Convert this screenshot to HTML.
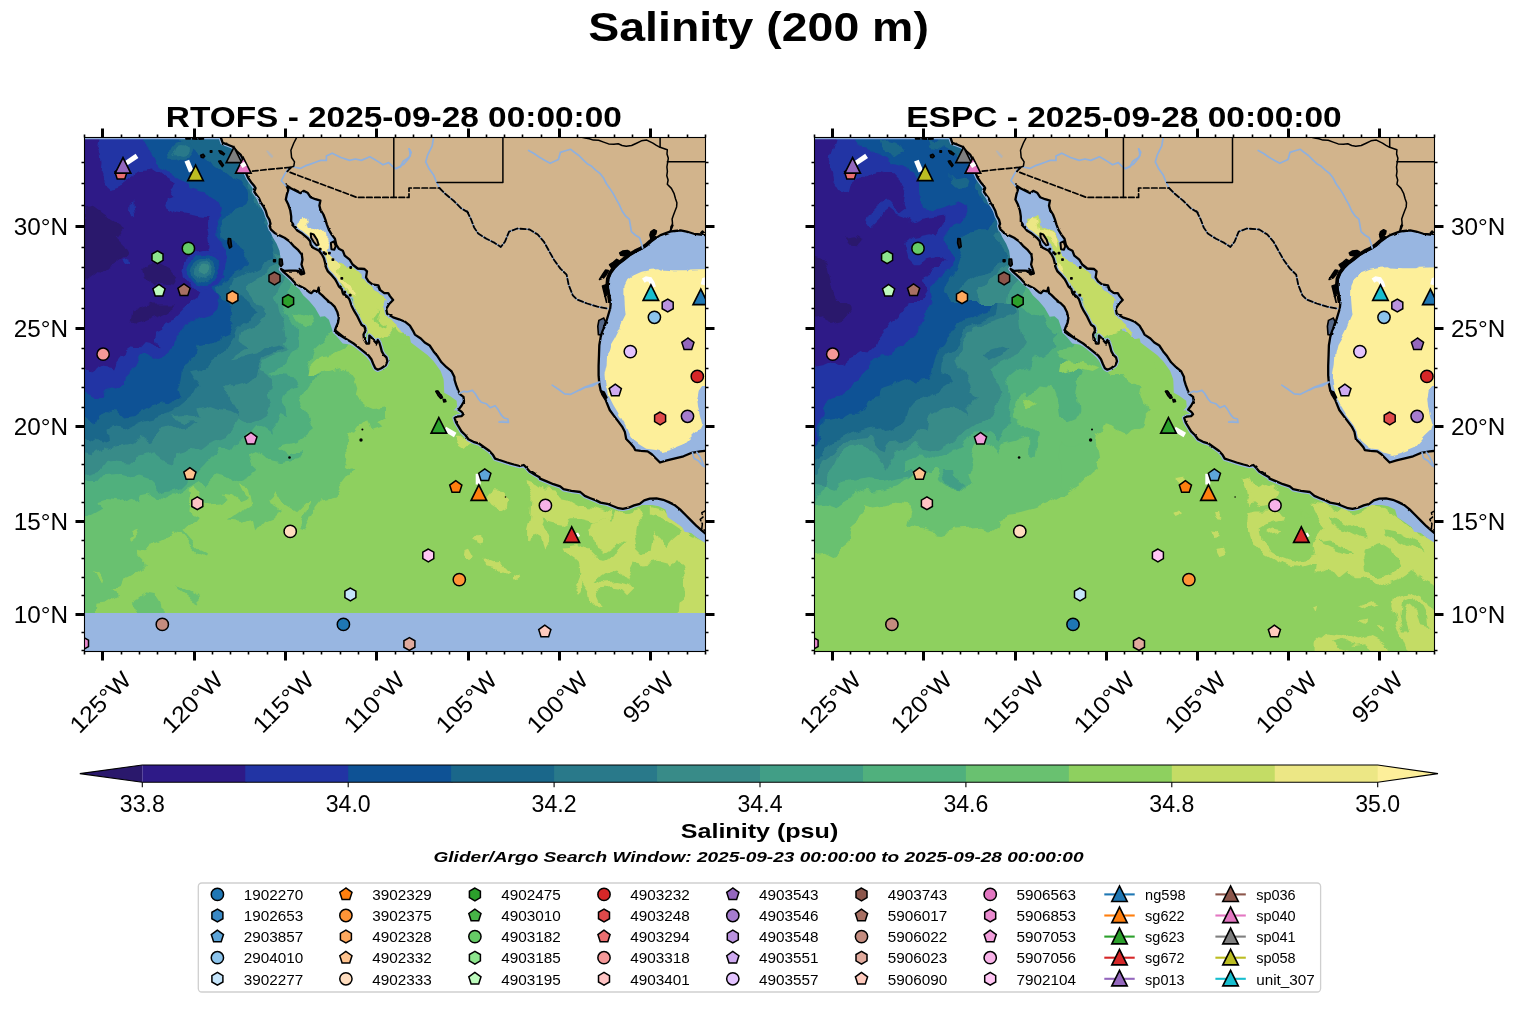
<!DOCTYPE html>
<html><head><meta charset="utf-8"><title>Salinity (200 m)</title><style>html,body{margin:0;padding:0;background:#fff}svg{display:block}text{fill:#000}svg{will-change:transform}</style></head><body><svg width="1518" height="1014" viewBox="0 0 1518 1014">
<rect width="1518" height="1014" fill="#fff"/>
<defs><clipPath id="clipL"><rect x="84.5" y="137.5" width="621" height="514"/></clipPath>
<filter id="rough" color-interpolation-filters="sRGB" filterUnits="userSpaceOnUse" x="40" y="90" width="720" height="610"><feTurbulence type="fractalNoise" baseFrequency="0.045" numOctaves="3" seed="7" result="n"/><feDisplacementMap in="SourceGraphic" in2="n" scale="14" xChannelSelector="R" yChannelSelector="G"/></filter>
<filter id="rough2" color-interpolation-filters="sRGB" filterUnits="userSpaceOnUse" x="40" y="90" width="720" height="610"><feTurbulence type="fractalNoise" baseFrequency="0.08" numOctaves="2" seed="3" result="n"/><feDisplacementMap in="SourceGraphic" in2="n" scale="5" xChannelSelector="R" yChannelSelector="G"/></filter>
<filter id="coast" color-interpolation-filters="sRGB" filterUnits="userSpaceOnUse" x="40" y="90" width="720" height="610"><feTurbulence type="fractalNoise" baseFrequency="0.16" numOctaves="2" seed="11" result="n"/><feDisplacementMap in="SourceGraphic" in2="n" scale="2.0" xChannelSelector="R" yChannelSelector="G"/></filter>
<filter id="wig" color-interpolation-filters="sRGB" filterUnits="userSpaceOnUse" x="40" y="90" width="720" height="610"><feTurbulence type="fractalNoise" baseFrequency="0.13" numOctaves="2" seed="5" result="n"/><feDisplacementMap in="SourceGraphic" in2="n" scale="4.5" xChannelSelector="R" yChannelSelector="G"/></filter>
<clipPath id="clipR"><rect x="814.5" y="137.5" width="620" height="514"/></clipPath></defs>
<text x="758.6" y="41.3" font-family="Liberation Sans, sans-serif" font-size="40.5" text-anchor="middle" font-weight="bold" font-style="normal" textLength="340.5" lengthAdjust="spacingAndGlyphs" >Salinity (200 m)</text>
<text x="393.8" y="127.2" font-family="Liberation Sans, sans-serif" font-size="30.4" text-anchor="middle" font-weight="bold" font-style="normal" textLength="456.0" lengthAdjust="spacingAndGlyphs" >RTOFS - 2025-09-28 00:00:00</text>
<text x="1124.0" y="127.2" font-family="Liberation Sans, sans-serif" font-size="30.4" text-anchor="middle" font-weight="bold" font-style="normal" textLength="435.5" lengthAdjust="spacingAndGlyphs" >ESPC - 2025-09-28 00:00:00</text>
<g clip-path="url(#clipL)"><g transform="translate(0.0,0)">
<g filter="url(#rough)">
<rect x="40" y="90" width="720" height="610" fill="#2234a4"/>
<path d="M82.4 135.4 L97.2 135.4 L97.2 138.6 L96.4 145.2 L99.6 153.5 L100.5 163.4 L99.6 174.9 L103.8 183.1 L109.5 188.1 L116.9 186.4 L126.0 183.1 L131.8 178.2 L133.4 172.4 L136.7 168.3 L143.3 167.5 L149.9 166.6 L156.5 170.8 L163.1 176.5 L169.6 180.6 L173.8 182.3 L169.6 188.1 L171.3 193.8 L174.6 197.1 L168.0 198.8 L165.5 204.5 L168.0 211.1 L176.2 214.4 L186.1 216.1 L196.0 217.7 L206.7 219.3 L207.5 225.9 L210.0 235.8 L211.6 244.0 L209.2 247.3 L199.3 250.6 L189.4 255.6 L184.5 262.2 L183.6 270.4 L186.1 280.3 L192.7 288.5 L199.3 295.1 L196.0 301.7 L192.7 304.0 L191.0 304.0 L182.8 310.6 L176.2 317.2 L166.3 322.1 L163.1 328.7 L156.5 332.0 L154.8 338.6 L156.5 344.3 L149.9 341.9 L144.9 341.1 L140.0 346.8 L131.8 345.2 L126.8 348.5 L125.2 353.4 L118.6 355.1 L114.5 360.0 L111.2 368.2 L100.5 366.6 L93.9 369.9 L92.2 372.3 L84.0 369.1 L80.7 369.1Z" fill="#2e1a87" />
<path d="M83.2 209.5 L93.9 207.8 L105.4 216.1 L116.9 222.6 L121.9 229.2 L116.9 235.8 L125.2 244.0 L130.1 252.3 L121.9 258.9 L113.6 265.5 L103.8 268.8 L93.9 277.0 L83.2 285.2Z" fill="#2a186c" />
<path d="M146.6 263.8 L158.1 262.2 L169.6 268.8 L176.2 277.0 L172.9 283.6 L163.1 281.9 L154.8 285.2 L144.9 280.3 L143.3 270.4Z" fill="#2a186c" />
<path d="M133.4 310.6 L149.9 305.6 L176.2 305.6 L166.3 312.2 L153.2 317.2 L138.3 323.8 L131.8 322.1Z" fill="#2a186c" />
<path d="M128.5 202.9 L133.4 200.4 L134.2 209.5 L135.1 217.7 L130.1 218.5 L128.1 211.1Z" fill="#2234a4" />
<path d="M123.5 258.9 L129.3 257.2 L130.1 263.0 L125.2 265.5Z" fill="#2234a4" />
<path d="M141.6 135.4 L141.6 138.6 L146.6 146.9 L151.5 155.1 L156.5 163.4 L163.1 169.9 L172.9 175.7 L182.8 181.5 L189.4 186.4 L191.0 191.3 L199.3 193.8 L209.2 196.3 L217.4 201.2 L219.9 209.5 L217.4 219.3 L219.0 229.2 L220.7 239.1 L224.0 250.6 L225.6 262.2 L224.0 273.7 L215.8 283.6 L210.8 288.5 L215.8 295.1 L219.0 301.7 L215.8 304.0 L214.1 310.6 L209.2 313.9 L199.3 317.2 L189.4 325.4 L184.5 330.4 L172.9 336.9 L166.3 343.5 L163.1 353.4 L154.8 358.3 L146.6 353.4 L138.3 356.7 L133.4 366.6 L126.8 373.2 L125.2 383.1 L116.9 388.0 L108.7 389.6 L102.1 397.9 L93.9 397.9 L84.0 392.9 L80.7 392.9 L60.0 660.0 L720.0 660.0 L720.0 120.0Z" fill="#0e5295" />
<path d="M181.2 135.4 L181.2 138.6 L189.4 146.9 L199.3 155.1 L209.2 161.7 L220.7 169.9 L232.2 176.5 L242.1 179.8 L248.7 186.4 L250.3 196.3 L247.0 206.2 L238.8 211.1 L228.9 212.8 L221.5 217.7 L222.3 229.2 L224.0 239.1 L232.2 242.4 L242.1 245.7 L247.0 252.3 L247.9 262.2 L242.1 268.8 L232.2 273.7 L225.6 280.3 L220.7 285.2 L215.8 290.2 L217.4 296.7 L222.3 301.7 L228.9 304.0 L232.2 313.9 L235.5 323.8 L232.2 332.0 L220.7 335.3 L219.0 341.9 L205.9 346.8 L197.6 348.5 L196.0 355.1 L191.0 364.9 L182.8 369.9 L181.2 379.8 L176.2 386.3 L179.5 396.2 L172.9 402.8 L163.1 401.2 L149.9 404.5 L141.6 409.4 L133.4 416.0 L125.2 417.6 L116.9 409.4 L105.4 407.8 L97.2 412.7 L93.9 422.6 L84.0 416.0 L80.7 416.0 L60.0 660.0 L720.0 660.0 L720.0 120.0Z" fill="#1a678a" />
<path d="M255.3 169.9 L248.7 174.9 L252.0 186.4 L255.3 199.6 L258.6 209.5 L263.5 219.3 L268.5 229.2 L271.7 239.1 L273.4 249.0 L270.1 258.9 L258.6 265.5 L248.7 268.8 L240.5 273.7 L232.2 278.6 L228.9 285.2 L232.2 291.8 L238.8 298.4 L250.3 304.0 L258.6 310.6 L248.7 320.5 L238.8 328.7 L235.5 336.9 L222.3 346.8 L219.0 356.7 L199.3 371.5 L191.0 373.2 L199.3 386.3 L196.0 392.9 L184.5 402.8 L176.2 409.4 L169.6 414.3 L154.8 419.3 L141.6 422.6 L125.2 429.2 L113.6 425.9 L105.4 430.8 L107.1 440.7 L93.9 437.4 L88.9 440.7 L84.0 437.4 L80.7 437.4 L60.0 660.0 L720.0 660.0 L720.0 200.0Z" fill="#29798a" />
<path d="M286.6 252.3 L273.4 252.3 L276.7 262.2 L270.1 268.8 L261.9 273.7 L253.6 277.0 L247.0 285.2 L248.7 293.5 L255.3 301.7 L261.9 304.0 L265.2 313.9 L255.3 325.4 L242.1 332.0 L240.5 340.2 L248.7 345.2 L235.5 353.4 L232.2 358.3 L256.9 353.4 L265.2 346.8 L278.3 343.5 L283.3 346.8 L275.0 351.8 L263.5 356.7 L258.6 366.6 L256.9 376.5 L247.0 383.1 L235.5 386.3 L222.3 386.3 L228.9 396.2 L237.2 409.4 L238.8 416.0 L228.9 411.0 L219.0 409.4 L209.2 406.1 L199.3 409.4 L202.6 417.6 L182.8 416.0 L169.6 417.6 L182.8 422.6 L197.6 420.9 L189.4 427.5 L172.9 429.2 L158.1 432.5 L149.9 444.0 L138.3 435.8 L133.4 444.0 L113.6 448.9 L105.4 445.6 L97.2 448.9 L90.6 457.2 L84.0 455.5 L80.7 455.5 L60.0 660.0 L720.0 660.0 L720.0 250.0Z" fill="#388b88" />
<path d="M291.5 268.8 L283.3 272.0 L280.0 281.9 L275.0 290.2 L273.4 298.4 L276.7 304.0 L278.3 313.9 L284.9 325.4 L286.6 336.9 L281.6 341.9 L286.6 350.1 L271.7 355.1 L263.5 360.0 L260.2 369.9 L266.8 374.8 L275.0 378.1 L273.4 392.9 L266.8 396.2 L270.1 406.1 L265.2 412.7 L255.3 419.3 L245.4 422.6 L238.8 419.3 L232.2 429.2 L227.3 435.8 L215.8 440.7 L205.9 444.0 L199.3 448.9 L192.7 447.3 L176.2 452.2 L172.9 462.1 L163.1 458.8 L153.2 452.2 L138.3 457.2 L135.1 462.1 L116.9 460.5 L105.4 462.1 L100.5 468.7 L93.9 471.0 L84.0 473.6 L80.7 473.6 L60.0 660.0 L720.0 660.0 L720.0 260.0Z" fill="#419e86" />
<path d="M298.1 281.9 L291.5 285.2 L286.6 293.5 L284.1 301.7 L283.3 304.0 L281.6 313.9 L291.5 323.8 L296.5 333.6 L298.1 346.8 L291.5 353.4 L288.2 361.6 L278.3 369.9 L268.5 373.2 L293.2 376.5 L296.5 383.1 L284.9 389.6 L281.6 399.5 L284.9 409.4 L286.6 419.3 L278.3 416.0 L273.4 425.9 L275.0 435.8 L265.2 429.2 L255.3 425.9 L248.7 434.1 L232.2 447.3 L228.9 452.2 L219.0 448.9 L209.2 458.8 L199.3 471.0 L186.1 477.6 L182.8 484.2 L176.2 490.8 L166.3 492.4 L156.5 487.5 L149.9 480.9 L138.3 477.6 L128.5 479.2 L116.9 475.9 L100.5 477.6 L84.0 478.4 L80.7 478.4 L60.0 660.0 L720.0 660.0 L720.0 270.0Z" fill="#50b07d" />
<path d="M340.9 328.7 L329.6 332.0 L322.8 341.9 L314.6 350.1 L311.3 360.0 L308.0 366.6 L311.3 373.2 L321.2 376.5 L311.3 381.4 L306.3 389.6 L301.4 399.5 L304.7 409.4 L309.6 419.3 L312.9 429.2 L304.7 435.8 L294.8 442.3 L281.6 445.6 L289.9 452.2 L304.7 448.9 L298.1 458.8 L281.6 462.1 L265.2 458.8 L256.9 452.2 L248.7 457.2 L252.0 465.4 L256.9 470.2 L250.3 475.9 L242.1 479.2 L232.2 482.5 L225.6 475.9 L217.4 474.3 L214.1 477.6 L205.9 485.8 L199.3 480.9 L189.4 485.8 L184.5 487.5 L176.2 494.1 L169.6 497.4 L158.1 495.7 L149.9 490.8 L141.6 492.4 L140.0 500.6 L131.8 495.7 L116.9 500.6 L103.8 499.0 L93.9 502.3 L100.5 508.9 L88.9 515.5 L84.0 520.4 L80.7 520.4 L60.0 660.0 L720.0 660.0 L720.0 120.0 L400.0 120.0Z" fill="#69c170" />
<path d="M293.2 315.5 L299.7 312.2 L308.0 315.5 L311.3 323.8 L303.0 328.7 L296.5 323.8Z" fill="#69c170" />
<path d="M349.4 341.9 L342.8 346.8 L332.9 351.8 L329.6 358.3 L316.5 360.0 L309.9 366.6 L308.2 374.8 L316.5 376.5 L321.4 373.2 L332.9 369.9 L346.1 366.6 L356.0 379.8 L359.3 389.6 L357.6 396.2 L365.9 402.8 L374.1 406.1 L384.0 404.5 L384.0 416.0 L377.4 422.6 L382.3 427.5 L372.5 430.8 L369.2 420.9 L360.9 429.2 L356.0 435.8 L349.4 434.1 L347.8 444.0 L349.4 455.5 L347.8 465.4 L354.3 471.0 L334.0 497.4 L321.2 500.6 L314.6 508.9 L304.7 528.6 L298.1 527.0 L303.0 518.8 L311.3 500.6 L306.3 503.9 L298.1 512.2 L284.9 503.9 L280.0 497.4 L273.4 492.4 L265.2 500.6 L271.7 503.9 L280.0 508.9 L273.4 515.5 L265.2 518.8 L256.9 528.6 L255.3 518.8 L242.1 522.1 L228.9 520.4 L238.8 513.8 L250.3 505.6 L247.0 487.5 L238.8 484.2 L242.1 490.8 L247.0 499.0 L238.8 502.3 L228.9 494.1 L220.7 492.4 L225.6 499.0 L219.0 503.9 L209.2 505.6 L202.6 502.3 L199.3 492.4 L192.7 485.8 L186.1 489.1 L191.0 492.4 L189.4 508.9 L191.0 513.8 L197.6 517.1 L191.0 525.3 L182.8 533.6 L172.9 530.3 L166.3 536.9 L156.5 541.8 L148.2 553.3 L136.7 551.7 L138.3 556.6 L144.9 563.2 L138.3 569.8 L126.8 576.4 L123.5 584.6 L113.6 589.6 L116.9 594.5 L107.1 601.1 L96.4 602.8 L95.5 613.0 L95.5 652.2 L720.0 660.0 L720.0 120.0 L420.0 120.0Z" fill="#8ed05f" />
<path d="M138.3 614.3 L131.8 602.8 L140.0 596.2 L146.6 591.2 L156.5 592.9 L161.4 601.1 L163.1 614.3Z" fill="#69c170" />
<path d="M177.9 528.6 L182.8 531.9 L191.0 541.8 L199.3 550.1 L205.9 553.3 L205.0 556.6 L197.6 553.3 L189.4 545.1 L182.8 536.9Z" fill="#69c170" />
<path d="M176.2 586.3 L182.8 587.9 L197.6 596.2 L199.3 602.8 L189.4 597.8 L182.8 592.9Z" fill="#69c170" />
<path d="M131.8 530.3 L138.3 527.8 L140.0 533.6 L136.7 540.2 L130.9 545.1 L130.1 540.2 L135.1 536.9Z" fill="#8ed05f" />
<path d="M92.2 573.1 L97.2 574.8 L102.1 583.0 L100.5 584.6 L95.5 579.7Z" fill="#8ed05f" />
<path d="M484.4 498.4 L490.6 491.2 L500.8 492.3 L508.0 499.5 L507.0 506.7 L498.8 511.8 L490.6 506.7Z" fill="#c4dc65" />
<path d="M472.1 540.6 L478.2 534.4 L483.4 539.6 L480.3 544.7Z" fill="#c4dc65" />
<path d="M463.8 549.8 L469.0 547.8 L474.1 557.0 L467.9 562.2 L462.8 556.0Z" fill="#c4dc65" />
<path d="M482.3 561.1 L492.6 560.1 L502.9 564.2 L510.1 568.3 L508.0 571.4 L498.8 567.3 L486.4 565.2Z" fill="#c4dc65" />
<path d="M514.2 574.5 L518.3 575.5 L519.3 578.6 L515.2 579.6Z" fill="#c4dc65" />
<path d="M526.6 478.9 L534.0 481.8 L544.4 489.2 L556.2 490.7 L562.1 498.1 L569.5 499.6 L579.9 505.5 L591.7 507.0 L603.5 509.9 L612.4 512.9 L610.9 521.8 L603.5 518.8 L594.6 523.2 L582.8 520.3 L571.0 520.3 L562.1 524.7 L550.3 523.2 L538.5 520.3 L544.4 529.2 L550.3 538.0 L544.4 548.4 L541.4 539.5 L534.0 535.1 L528.1 539.5 L528.1 529.2 L531.1 517.3 L532.5 499.6 L528.1 489.2Z" fill="#c4dc65" />
<path d="M594.6 523.2 L603.5 518.8 L612.4 521.8 L615.4 514.4 L622.7 511.4 L630.1 512.9 L639.0 509.9 L642.0 515.8 L634.6 524.7 L633.1 535.1 L636.1 546.9 L643.4 554.3 L653.8 552.8 L655.3 539.5 L653.8 532.1 L661.2 538.0 L668.6 546.9 L674.5 539.5 L683.4 532.1 L692.3 536.5 L704.1 542.5 L710.0 543.9 L710.0 614.9 L676.7 614.9 L677.5 603.1 L684.9 591.3 L683.4 576.5 L680.4 564.6 L673.0 555.8 L667.1 564.6 L656.8 561.7 L644.9 564.6 L633.1 561.7 L628.7 570.6 L633.1 579.4 L624.2 576.5 L613.9 570.6 L603.5 573.5 L594.6 579.4 L603.5 582.4 L618.3 580.9 L633.1 583.9 L636.1 588.3 L630.1 594.2 L624.2 588.3 L612.4 586.8 L600.6 588.3 L596.1 595.7 L602.0 609.0 L597.6 607.5 L590.2 598.7 L588.7 588.3 L582.8 579.4 L579.9 588.3 L576.9 594.2 L575.4 588.3 L581.3 573.5 L579.9 561.7 L573.9 555.8 L565.1 549.9 L563.6 545.4 L576.9 543.9 L587.3 549.9 L594.6 557.3 L603.5 558.7 L612.4 555.8 L618.3 546.9 L624.2 541.0 L618.3 539.5 L612.4 546.9 L603.5 552.8 L596.1 549.9 L594.6 541.0 L591.7 535.1Z" fill="#c4dc65" />
<path d="M650.8 507.0 L662.7 509.9 L674.5 520.3 L683.4 529.2 L692.3 535.1 L686.3 535.1 L677.5 529.2 L668.6 523.2 L659.7 517.3 L650.8 514.4Z" fill="#c4dc65" />
<path d="M498.5 561.7 L505.9 564.6 L510.4 570.6 L507.4 572.0 L498.5 566.1Z" fill="#c4dc65" />
<path d="M514.0 574.3 L518.5 575.7 L517.0 579.4 L514.0 578.0Z" fill="#c4dc65" />
<path d="M453.2 435.8 L458.1 435.8 L469.6 444.0 L466.3 447.3 L456.5 440.7Z" fill="#c4dc65" />
<circle cx="182.0" cy="151.0" r="11.0" fill="#1a678a"/>
<circle cx="182.0" cy="151.0" r="7.0" fill="#29798a"/>
<circle cx="203.8" cy="270.0" r="20.5" fill="#2234a4"/>
<circle cx="203.8" cy="270.0" r="16.0" fill="#0e5295"/>
<circle cx="203.8" cy="270.0" r="12.3" fill="#1a678a"/>
<circle cx="203.8" cy="270.0" r="9.0" fill="#29798a"/>
<circle cx="203.8" cy="270.0" r="5.5" fill="#388b88"/>
<path d="M283.0 182.0 L300.0 180.0 L350.0 205.0 L400.0 300.0 L425.0 332.0 L400.0 337.0 L372.0 337.0 L350.0 300.0 L330.0 300.0 L290.0 240.0Z" fill="#98b6e1" />
<path d="M334.9 266.5 L338.8 260.6 L344.7 264.5 L351.7 266.5 L358.6 271.4 L363.5 276.4 L368.5 283.3 L373.4 288.2 L378.3 293.2 L382.3 298.1 L388.2 304.1 L384.2 303.0 L385.2 309.9 L389.2 318.8 L393.1 323.7 L398.1 327.7 L405.0 330.6 L402.0 333.6 L399.1 339.5 L398.1 343.5 L398.1 334.6 L395.1 328.7 L391.1 330.6 L387.2 335.6 L381.3 339.5 L375.3 341.5 L369.4 334.6 L365.5 328.7 L362.5 323.7 L360.5 319.8 L358.0 314.8 L355.1 309.9 L352.6 304.9 L351.1 300.0 L361.0 319.9 L357.6 313.9 L354.6 309.0 L353.6 304.1 L351.2 300.1 L348.2 296.1 L344.7 293.2 L343.3 289.2 L340.3 286.3 L338.3 282.3 L336.3 278.9 L333.4 275.4 L329.4 271.4Z" fill="#c4dc65" />
<path d="M376.3 307.9 L379.3 311.9 L375.3 317.8 L377.3 324.7 L382.3 327.7 L384.2 325.7 L379.3 322.7 L378.3 317.8 L380.3 312.8Z" fill="#8ed05f" />
<path d="M324.0 252.7 L327.0 250.7 L330.9 254.6 L334.9 258.6 L338.8 264.5 L336.8 268.5 L338.8 274.4 L344.7 280.3 L349.7 286.3 L353.6 293.2 L354.6 297.1 L348.7 294.2 L344.7 289.2 L339.8 282.3 L334.9 276.4 L328.9 271.4 L326.0 266.5 L324.5 260.6Z" fill="#ece785" />
<path d="M303.6 215.9 L308.0 218.9 L309.5 225.3 L313.5 230.3 L319.4 233.2 L323.4 238.2 L328.3 243.1 L319.1 230.9 L324.0 237.8 L328.4 244.8 L327.0 250.7 L325.0 253.7 L321.0 251.7 L315.1 247.7 L312.6 243.8 L309.2 236.9 L304.2 230.9 L300.3 226.0 L305.6 232.7 L300.6 228.3 L298.2 223.4 L299.6 219.4Z" fill="#fdef9a" />
<path d="M366.4 329.6 L369.4 334.6 L375.3 341.5 L381.3 339.5 L387.2 335.6 L391.1 329.6 L395.1 327.7 L399.1 332.6 L405.0 330.6 L408.9 332.6 L411.9 343.5 L365.5 343.5Z" fill="#8ed05f" />
</g>
<path d="M590.0 215.0 L720.0 215.0 L720.0 470.0 L640.0 470.0 L590.0 400.0Z" fill="#98b6e1" />
<g filter="url(#rough2)">
<path d="M710.2 268.9 L690.1 269.5 L686.6 271.2 L672.4 271.2 L660.5 270.6 L658.1 269.2 L651.0 269.7 L641.6 271.8 L633.3 275.4 L627.4 280.1 L624.4 286.0 L624.4 297.9 L625.0 308.5 L625.6 315.6 L622.6 321.6 L619.7 328.7 L618.6 330.0 L614.5 338.3 L610.4 345.2 L608.3 353.5 L607.6 364.5 L605.5 374.2 L606.2 382.4 L608.3 390.7 L609.0 396.2 L613.1 404.5 L617.3 411.4 L621.4 418.3 L625.5 425.2 L628.3 432.1 L632.4 439.0 L639.3 444.5 L646.2 448.7 L655.9 450.1 L662.8 452.1 L669.7 450.1 L676.6 447.3 L683.5 444.5 L689.0 439.0 L694.5 433.5 L700.1 429.4 L702.1 423.8 L700.1 415.6 L698.0 407.3 L697.3 399.0 L698.7 390.7 L702.8 385.2 L712.5 383.8Z" fill="#fdef9a" />
</g>
<path d="M249.2 171.5 L248.2 180.4 L253.1 189.3 L258.1 202.2 L264.0 212.1 L267.0 220.0 L268.9 225.9 L268.7 224.0 L269.6 229.9 L272.6 236.9 L276.6 243.8 L279.5 250.7 L280.5 257.6 L279.5 262.5 L280.0 269.0 L283.5 273.4 L287.4 277.4 L293.4 284.3 L299.3 289.2 L303.2 295.2 L309.2 301.1 L315.1 308.0 L322.0 319.9 L320.0 316.8 L324.9 316.3 L328.9 319.8 L330.9 325.7 L332.8 331.6 L336.8 336.6 L342.7 343.5 L349.6 344.5 L355.6 347.4 L361.5 352.4 L366.4 357.3 L371.4 363.2 L379.3 359.3 L359.5 329.6 L339.8 304.9 L309.2 264.5 L289.4 234.9 L259.1 173.5Z" fill="#98b6e1" />
<path d="M408.9 332.6 L410.9 342.5 L418.8 348.4 L427.7 355.3 L433.6 361.3 L440.6 371.1 L443.5 379.1 L444.5 388.9 L451.4 394.9 L443.7 380.0 L444.2 392.8 L449.6 395.8 L456.6 400.8 L457.1 406.7 L453.6 410.6 L461.5 409.6 L466.4 399.8 L461.5 384.9 L459.5 375.1 L443.5 359.3 L418.8 334.6Z" fill="#98b6e1" />
<path d="M638.6 505.1 L645.3 505.1 L652.0 505.1 L658.7 506.2 L665.4 509.6 L667.7 517.2 L674.4 521.7 L682.2 527.3 L684.5 531.8 L691.2 532.9 L696.8 537.4 L705.2 543.0 L712.5 547.4 L712.5 528.4 L685.6 506.0 L652.0 494.8Z" fill="#98b6e1" />
<path d="M70.0 613.0 L730.0 613.0 L730.0 670.0 L70.0 670.0Z" fill="#98b6e1" />
<path d="M221.0 128.1 L221.0 138.0 L222.7 142.9 L227.9 144.7 L232.9 146.8 L236.8 151.3 L240.8 154.9 L243.2 159.7 L244.2 165.6 L245.7 172.5 L248.2 178.0 L251.1 182.2 L253.9 185.4 L255.6 188.2 L254.3 191.8 L256.9 195.5 L259.1 198.4 L260.7 202.4 L263.6 206.7 L265.8 211.1 L267.2 216.0 L269.4 219.6 L270.5 223.9 L269.6 226.0 L270.8 229.4 L274.6 232.9 L279.5 235.4 L284.5 237.8 L289.4 241.3 L293.4 245.8 L298.3 250.2 L301.8 254.6 L302.5 259.6 L301.5 264.5 L303.2 269.5 L304.2 273.4 L300.8 274.4 L298.3 270.9 L295.3 270.7 L289.4 270.7 L284.5 270.9 L281.0 269.0 L283.5 271.9 L286.4 274.4 L291.4 278.9 L295.3 283.3 L299.3 285.8 L304.2 288.2 L309.2 292.2 L311.3 293.2 L313.6 290.7 L317.6 291.4 L318.6 287.7 L319.5 293.2 L322.0 295.2 L325.0 298.1 L328.4 301.1 L327.9 301.5 L330.9 303.0 L334.8 306.9 L337.3 311.9 L338.8 317.8 L338.0 322.7 L335.8 327.7 L334.8 331.6 L338.8 334.6 L343.7 337.5 L348.7 340.5 L353.6 343.5 L358.5 347.4 L363.5 351.4 L368.4 355.3 L371.4 359.3 L373.4 364.2 L375.3 368.2 L377.8 369.7 L381.3 368.2 L385.7 365.2 L387.4 361.3 L386.4 357.3 L383.7 354.8 L381.8 351.4 L380.5 346.4 L379.3 342.5 L377.8 340.0 L376.5 343.5 L373.9 340.5 L371.4 337.5 L369.4 335.6 L369.1 343.5 L366.4 343.5 L364.0 339.5 L363.5 334.6 L365.5 330.6 L364.5 326.7 L361.5 324.7 L359.5 320.8 L357.1 315.8 L354.1 310.9 L351.6 305.9 L349.6 300.0 L349.2 299.1 L346.7 296.1 L342.8 293.2 L341.8 289.2 L338.8 286.3 L336.8 282.3 L334.9 278.9 L331.9 275.4 L327.9 271.4 L326.0 267.5 L325.0 262.5 L324.0 258.6 L322.0 254.6 L319.1 250.7 L313.1 247.7 L310.7 244.8 L310.2 241.3 L307.2 237.8 L301.3 232.9 L297.3 230.4 L295.3 228.0 L292.4 225.0 L293.2 224.3 L291.2 221.4 L291.2 216.4 L290.3 210.5 L288.3 204.6 L285.8 199.6 L286.8 194.7 L288.3 189.8 L286.3 185.3 L290.8 188.3 L295.7 190.8 L300.6 193.2 L303.6 190.8 L307.5 192.7 L310.5 197.2 L315.5 199.2 L320.4 200.6 L319.4 205.6 L320.4 209.5 L323.4 214.5 L325.3 219.4 L326.8 224.3 L328.9 229.9 L331.9 234.9 L334.9 238.8 L336.3 244.8 L338.8 248.7 L342.8 250.7 L344.7 255.6 L349.7 259.6 L352.6 264.5 L357.6 268.5 L364.5 269.0 L367.0 271.4 L366.0 277.4 L368.5 281.3 L372.4 284.3 L378.3 285.3 L380.3 290.2 L384.3 293.2 L388.2 293.2 L390.0 296.1 L393.1 300.0 L389.2 304.0 L386.2 308.9 L387.2 313.8 L393.1 317.3 L399.1 319.3 L405.0 321.7 L409.9 325.7 L412.9 330.6 L414.9 334.6 L420.8 338.5 L424.7 342.5 L429.7 345.5 L433.6 351.4 L437.6 356.3 L441.5 362.3 L446.5 367.2 L451.4 371.1 L454.4 377.1 L454.6 380.0 L456.1 384.9 L458.0 389.9 L459.5 393.8 L463.5 396.8 L464.0 401.2 L461.5 405.7 L458.5 409.6 L461.5 411.6 L463.5 414.1 L461.5 416.1 L457.1 416.6 L454.6 418.0 L456.1 422.5 L458.5 426.4 L461.5 431.4 L465.5 435.3 L468.4 439.3 L473.4 441.8 L479.3 443.7 L484.2 447.2 L489.2 450.7 L493.1 455.1 L495.1 458.6 L501.0 460.5 L507.0 462.5 L513.9 464.5 L519.8 466.0 L523.8 465.0 L526.7 467.9 L529.7 471.4 L534.6 474.4 L539.6 477.3 L540.0 478.6 L546.7 481.4 L553.4 484.2 L560.2 486.4 L563.5 489.2 L571.4 490.9 L580.3 492.0 L584.8 495.9 L590.4 498.2 L596.0 500.4 L600.5 502.6 L607.2 503.8 L612.8 506.0 L618.4 508.2 L622.9 508.8 L628.5 507.7 L634.1 505.4 L639.7 503.8 L644.2 500.4 L649.8 498.7 L656.5 498.4 L663.2 499.8 L668.8 502.1 L674.4 504.9 L680.0 509.4 L685.6 515.0 L691.2 520.6 L696.8 526.2 L701.3 530.1 L705.2 533.4 L714.7 541.3 L715.2 449.8 L700.1 451.4 L691.8 452.8 L683.5 456.3 L675.2 458.3 L666.9 460.4 L660.0 462.5 L655.2 457.7 L651.8 454.2 L647.6 451.4 L640.7 450.8 L635.2 450.1 L633.8 447.3 L630.4 443.2 L626.2 439.0 L624.9 432.1 L622.1 426.6 L618.0 421.1 L613.8 415.6 L609.7 410.0 L606.9 403.1 L604.2 396.2 L600.7 390.7 L599.3 383.8 L598.6 375.5 L598.6 365.9 L599.0 354.8 L599.3 345.2 L600.7 336.9 L602.8 330.0 L604.3 327.5 L606.6 320.4 L608.4 314.5 L610.2 308.5 L610.8 302.6 L609.6 296.7 L608.4 290.8 L607.8 284.9 L608.4 278.9 L610.8 273.0 L614.3 268.3 L619.1 263.5 L623.8 260.0 L629.7 255.3 L635.6 251.7 L641.6 248.7 L646.3 245.8 L651.0 241.6 L655.8 238.1 L660.5 235.1 L665.2 233.4 L670.0 231.6 L674.7 231.0 L680.6 230.4 L686.6 231.6 L693.7 233.9 L700.8 234.5 L705.5 235.1 L712.6 235.4 L720.0 120.0 L221.0 120.0Z" fill="none" stroke="#98b6e1" stroke-width="4.5" stroke-linejoin="round"/>
<path d="M84 138.6H222" stroke="#98b6e1" stroke-width="1.2"/>
<path d="M221.0 128.1 L221.0 138.0 L222.7 142.9 L227.9 144.7 L232.9 146.8 L236.8 151.3 L240.8 154.9 L243.2 159.7 L244.2 165.6 L245.7 172.5 L248.2 178.0 L251.1 182.2 L253.9 185.4 L255.6 188.2 L254.3 191.8 L256.9 195.5 L259.1 198.4 L260.7 202.4 L263.6 206.7 L265.8 211.1 L267.2 216.0 L269.4 219.6 L270.5 223.9 L269.6 226.0 L270.8 229.4 L274.6 232.9 L279.5 235.4 L284.5 237.8 L289.4 241.3 L293.4 245.8 L298.3 250.2 L301.8 254.6 L302.5 259.6 L301.5 264.5 L303.2 269.5 L304.2 273.4 L300.8 274.4 L298.3 270.9 L295.3 270.7 L289.4 270.7 L284.5 270.9 L281.0 269.0 L283.5 271.9 L286.4 274.4 L291.4 278.9 L295.3 283.3 L299.3 285.8 L304.2 288.2 L309.2 292.2 L311.3 293.2 L313.6 290.7 L317.6 291.4 L318.6 287.7 L319.5 293.2 L322.0 295.2 L325.0 298.1 L328.4 301.1 L327.9 301.5 L330.9 303.0 L334.8 306.9 L337.3 311.9 L338.8 317.8 L338.0 322.7 L335.8 327.7 L334.8 331.6 L338.8 334.6 L343.7 337.5 L348.7 340.5 L353.6 343.5 L358.5 347.4 L363.5 351.4 L368.4 355.3 L371.4 359.3 L373.4 364.2 L375.3 368.2 L377.8 369.7 L381.3 368.2 L385.7 365.2 L387.4 361.3 L386.4 357.3 L383.7 354.8 L381.8 351.4 L380.5 346.4 L379.3 342.5 L377.8 340.0 L376.5 343.5 L373.9 340.5 L371.4 337.5 L369.4 335.6 L369.1 343.5 L366.4 343.5 L364.0 339.5 L363.5 334.6 L365.5 330.6 L364.5 326.7 L361.5 324.7 L359.5 320.8 L357.1 315.8 L354.1 310.9 L351.6 305.9 L349.6 300.0 L349.2 299.1 L346.7 296.1 L342.8 293.2 L341.8 289.2 L338.8 286.3 L336.8 282.3 L334.9 278.9 L331.9 275.4 L327.9 271.4 L326.0 267.5 L325.0 262.5 L324.0 258.6 L322.0 254.6 L319.1 250.7 L313.1 247.7 L310.7 244.8 L310.2 241.3 L307.2 237.8 L301.3 232.9 L297.3 230.4 L295.3 228.0 L292.4 225.0 L293.2 224.3 L291.2 221.4 L291.2 216.4 L290.3 210.5 L288.3 204.6 L285.8 199.6 L286.8 194.7 L288.3 189.8 L286.3 185.3 L290.8 188.3 L295.7 190.8 L300.6 193.2 L303.6 190.8 L307.5 192.7 L310.5 197.2 L315.5 199.2 L320.4 200.6 L319.4 205.6 L320.4 209.5 L323.4 214.5 L325.3 219.4 L326.8 224.3 L328.9 229.9 L331.9 234.9 L334.9 238.8 L336.3 244.8 L338.8 248.7 L342.8 250.7 L344.7 255.6 L349.7 259.6 L352.6 264.5 L357.6 268.5 L364.5 269.0 L367.0 271.4 L366.0 277.4 L368.5 281.3 L372.4 284.3 L378.3 285.3 L380.3 290.2 L384.3 293.2 L388.2 293.2 L390.0 296.1 L393.1 300.0 L389.2 304.0 L386.2 308.9 L387.2 313.8 L393.1 317.3 L399.1 319.3 L405.0 321.7 L409.9 325.7 L412.9 330.6 L414.9 334.6 L420.8 338.5 L424.7 342.5 L429.7 345.5 L433.6 351.4 L437.6 356.3 L441.5 362.3 L446.5 367.2 L451.4 371.1 L454.4 377.1 L454.6 380.0 L456.1 384.9 L458.0 389.9 L459.5 393.8 L463.5 396.8 L464.0 401.2 L461.5 405.7 L458.5 409.6 L461.5 411.6 L463.5 414.1 L461.5 416.1 L457.1 416.6 L454.6 418.0 L456.1 422.5 L458.5 426.4 L461.5 431.4 L465.5 435.3 L468.4 439.3 L473.4 441.8 L479.3 443.7 L484.2 447.2 L489.2 450.7 L493.1 455.1 L495.1 458.6 L501.0 460.5 L507.0 462.5 L513.9 464.5 L519.8 466.0 L523.8 465.0 L526.7 467.9 L529.7 471.4 L534.6 474.4 L539.6 477.3 L540.0 478.6 L546.7 481.4 L553.4 484.2 L560.2 486.4 L563.5 489.2 L571.4 490.9 L580.3 492.0 L584.8 495.9 L590.4 498.2 L596.0 500.4 L600.5 502.6 L607.2 503.8 L612.8 506.0 L618.4 508.2 L622.9 508.8 L628.5 507.7 L634.1 505.4 L639.7 503.8 L644.2 500.4 L649.8 498.7 L656.5 498.4 L663.2 499.8 L668.8 502.1 L674.4 504.9 L680.0 509.4 L685.6 515.0 L691.2 520.6 L696.8 526.2 L701.3 530.1 L705.2 533.4 L714.7 541.3 L715.2 449.8 L700.1 451.4 L691.8 452.8 L683.5 456.3 L675.2 458.3 L666.9 460.4 L660.0 462.5 L655.2 457.7 L651.8 454.2 L647.6 451.4 L640.7 450.8 L635.2 450.1 L633.8 447.3 L630.4 443.2 L626.2 439.0 L624.9 432.1 L622.1 426.6 L618.0 421.1 L613.8 415.6 L609.7 410.0 L606.9 403.1 L604.2 396.2 L600.7 390.7 L599.3 383.8 L598.6 375.5 L598.6 365.9 L599.0 354.8 L599.3 345.2 L600.7 336.9 L602.8 330.0 L604.3 327.5 L606.6 320.4 L608.4 314.5 L610.2 308.5 L610.8 302.6 L609.6 296.7 L608.4 290.8 L607.8 284.9 L608.4 278.9 L610.8 273.0 L614.3 268.3 L619.1 263.5 L623.8 260.0 L629.7 255.3 L635.6 251.7 L641.6 248.7 L646.3 245.8 L651.0 241.6 L655.8 238.1 L660.5 235.1 L665.2 233.4 L670.0 231.6 L674.7 231.0 L680.6 230.4 L686.6 231.6 L693.7 233.9 L700.8 234.5 L705.5 235.1 L712.6 235.4 L720.0 120.0 L221.0 120.0Z" fill="#d2b48c" stroke="#000" stroke-width="2.3" stroke-linejoin="round" filter="url(#coast)"/>
<g filter="url(#coast)">
<path d="M655.1 237.5 L650.3 241.0 L645.6 245.2 L640.9 248.2 L634.9 251.1 L629.0 254.7 L623.1 259.4 L618.4 263.0 L613.6 267.7 L610.1 272.4 L607.7 278.6 L607.1 284.9 L607.7 290.8 L608.9 296.7 L609.8 302.6" fill="none" stroke="#000" stroke-width="3.40" stroke-linejoin="round" stroke-linecap="round" />
<path d="M700.8 232.8 L702.5 231.0 L704.3 232.8Z" fill="#000" stroke="#000" stroke-width="1.6" stroke-linejoin="round"/>
<path d="M670.6 231.0 L671.2 226.2 L672.9 225.1Z" fill="#000" stroke="#000" stroke-width="1.6" stroke-linejoin="round"/>
<path d="M649.9 235.1 L651.0 231.6 L654.0 229.8 L656.4 231.0 L655.8 233.9 L652.8 236.9 L651.0 238.7Z" fill="#000" stroke="#000" stroke-width="1.6" stroke-linejoin="round"/>
<path d="M619.7 252.9 L622.6 251.1 L627.4 250.5 L629.7 251.7 L628.0 254.7 L623.8 255.8 L620.8 255.3Z" fill="#000" stroke="#000" stroke-width="1.6" stroke-linejoin="round"/>
<path d="M609.6 264.7 L613.2 262.4 L616.7 259.4 L619.1 260.6 L615.5 264.7 L612.0 268.3Z" fill="#000" stroke="#000" stroke-width="1.6" stroke-linejoin="round"/>
<path d="M599.5 279.5 L603.7 277.8 L606.6 274.2 L608.4 270.6 L605.5 270.1 L603.1 273.6Z" fill="#000" stroke="#000" stroke-width="1.6" stroke-linejoin="round"/>
<path d="M602.5 286.0 L605.5 284.9 L607.2 290.8 L605.5 296.7 L606.6 302.6Z" fill="#000" stroke="#000" stroke-width="1.6" stroke-linejoin="round"/>
<path d="M600.7 390.7 L604.2 392.1 L606.9 397.6 L604.8 399.0 L602.1 394.9Z" fill="#000" stroke="#000" stroke-width="1.6" stroke-linejoin="round"/>
<path d="M299.3 268.5 L301.8 271.4 L304.2 273.4 L301.8 274.4Z" fill="#000" stroke="#000" stroke-width="1.6" stroke-linejoin="round"/>
<path d="M334.8 329.6 L337.3 332.6 L340.8 334.6 L344.2 337.1Z" fill="#000" stroke="#000" stroke-width="1.6" stroke-linejoin="round"/>
<path d="M598.9 320.4 L603.7 318.0 L605.5 321.6 L603.1 328.7 L600.7 335.1 L598.4 334.6 L597.8 326.3Z" fill="#56698a" stroke="#000" stroke-width="1.6"/>
</g>
<path d="M498.1 421.3 L503.0 420.3 L508.4 421.0 L507.9 422.7 L503.0 422.5 L499.1 422.5Z" fill="#a9b4c4" />
<path d="M266.0 150.8 L267.9 150.6 L273.4 156.2 L271.9 158.2 L268.9 155.2Z" fill="#b4b4b4" />
<path d="M288.7 168.0 L284.3 174.9 L281.4 180.7 L285.8 185.8" fill="none" stroke="#8fb0de" stroke-width="1.70" stroke-linejoin="round" stroke-linecap="round" />
<path d="M293.8 167.0 L300.3 168.4 L305.2 165.9 L310.4 164.1 L315.5 162.3 L320.6 160.4 L326.4 160.4 L326.4 156.1 L332.2 153.2 L340.9 157.5 L349.6 160.4 L355.4 159.0 L361.2 160.4 L369.9 156.8 L374.3 159.2 L378.6 161.9 L382.9 164.8 L388.7 162.6 L394.5 168.4 L400.3 167.0 L403.2 161.2 L409.0 157.5 L411.2 152.5 L409.0 148.8" fill="none" stroke="#8fb0de" stroke-width="1.70" stroke-linejoin="round" stroke-linecap="round" />
<path d="M433.6 137.2 L432.2 145.9 L427.8 154.6 L425.7 161.9 L429.3 169.1 L433.6 174.9 L436.5 182.2 L439.4 188.0" fill="none" stroke="#8fb0de" stroke-width="1.70" stroke-linejoin="round" stroke-linecap="round" />
<path d="M409.4 149.3 L410.4 155.5 L407.6 159.8 L404.2 163.7 L396.0 168.9" fill="none" stroke="#8fb0de" stroke-width="1.70" stroke-linejoin="round" stroke-linecap="round" />
<path d="M528.6 150.4 L534.4 153.7 L539.9 157.6 L545.0 160.5 L550.2 163.3 L558.4 159.6 L560.4 152.4 L565.5 150.7 L570.7 149.3 L574.7 152.5 L578.9 155.5 L582.9 159.7 L587.2 163.7 L591.7 166.3 L595.4 169.9 L600.0 173.5 L603.6 178.1 L606.3 183.5 L609.8 188.4 L613.1 193.4 L615.9 198.7 L619.3 204.7 L622.1 211.0 L625.2 215.6 L629.3 219.2 L630.4 225.4 L631.4 231.6 L635.2 235.0 L639.6 237.7 L641.2 242.8 L642.7 248.0" fill="none" stroke="#8fb0de" stroke-width="1.70" stroke-linejoin="round" stroke-linecap="round" />
<path d="M459.5 393.3 L463.5 391.4 L467.4 391.9 L472.4 390.4 L475.3 393.8 L478.3 398.8 L481.3 402.2 L486.2 403.7 L490.2 407.7 L495.1 405.7 L498.1 409.6 L501.0 414.6 L504.0 418.0 L507.9 419.0 L508.4 422.5 L499.1 422.0" fill="none" stroke="#8fb0de" stroke-width="1.70" stroke-linejoin="round" stroke-linecap="round" />
<path d="M580.0 390.0 L585.5 387.3 L592.4 385.9 L598.6 382.4" fill="none" stroke="#8fb0de" stroke-width="1.70" stroke-linejoin="round" stroke-linecap="round" />
<path d="M552.2 385.1 L558.4 389.2 L564.6 393.9 L570.7 394.3 L576.9 391.2 L585.1 387.1 L593.3 384.1 L599.5 382.0" fill="none" stroke="#8fb0de" stroke-width="1.70" stroke-linejoin="round" stroke-linecap="round" />
<path d="M692.5 452.8 L693.9 458.3 L698.7 461.1 L702.8 465.9" fill="none" stroke="#8fb0de" stroke-width="1.70" stroke-linejoin="round" stroke-linecap="round" />
<path d="M696.6 452.1 L700.1 457.0 L702.1 461.1 L704.2 466.6" fill="none" stroke="#8fb0de" stroke-width="1.70" stroke-linejoin="round" stroke-linecap="round" />
<path d="M439.4 188.0 L445.2 193.8 L453.9 201.0 L461.2 208.3 L468.4 212.6 L466.9 211.0 L471.0 219.2 L474.1 227.4 L478.2 233.6 L486.4 238.7 L494.7 242.9 L500.8 247.0 L504.9 241.8 L509.1 231.6 L517.3 228.5 L529.6 229.5 L537.8 234.6 L544.0 241.8 L549.1 251.1 L554.3 260.3 L560.4 268.6 L566.6 274.7 L568.7 285.0 L572.8 295.3 L576.9 299.4 L587.2 303.5 L597.4 306.6 L607.7 308.6" fill="none" stroke="#8fb0de" stroke-width="1.70" stroke-linejoin="round" stroke-linecap="round" />
<path d="M297.4 135.8 L295.7 139.4 L293.8 143.0 L290.9 150.3 L291.6 157.5 L294.5 161.9 L293.8 166.2 L288.7 168.0" fill="none" stroke="#000" stroke-width="1.50" stroke-linejoin="round" stroke-linecap="round" />
<path d="M581.0 137.0 L585.1 138.0 L589.3 138.8 L593.3 140.1 L598.6 140.3 L603.6 142.1 L608.6 143.9 L613.9 144.2 L618.2 143.8 L622.1 145.5 L626.2 146.2 L631.6 145.5 L636.5 143.2 L641.4 140.8 L646.8 140.1 L652.9 143.2 L656.4 145.4 L660.1 147.3 L667.3 149.7 L667.0 154.0 L668.3 158.3 L667.6 162.7 L666.9 167.0 L667.4 171.3 L666.8 175.7 L668.1 180.0 L667.3 184.3 L671.4 188.4 L674.0 193.3 L675.5 198.7 L676.9 202.7 L676.6 206.9 L675.0 211.0 L673.5 215.1 L672.1 219.1 L672.5 223.3 L670.4 230.5" fill="none" stroke="#000" stroke-width="1.50" stroke-linejoin="round" stroke-linecap="round" />
<path d="M393.8 130.0 L393.8 197.4" fill="none" stroke="#000" stroke-width="1.50" stroke-linejoin="round" stroke-linecap="round" />
<path d="M437.1 182.6 L502.9 182.6 L502.9 132.9" fill="none" stroke="#000" stroke-width="1.50" stroke-linejoin="round" stroke-linecap="round" />
<path d="M660.1 132.9 L660.1 147.3" fill="none" stroke="#000" stroke-width="1.50" stroke-linejoin="round" stroke-linecap="round" />
<path d="M667.3 161.7 L708.4 161.7" fill="none" stroke="#000" stroke-width="1.50" stroke-linejoin="round" stroke-linecap="round" />
<path d="M252.6 171.1 L291.7 167.1 L287.2 171.3 L356.8 197.4 L409.0 197.4 L409.0 188.0 L439.4 188.0" fill="none" stroke="#000" stroke-width="1.70" stroke-linejoin="round" stroke-linecap="round" stroke-dasharray="5.5 2.6" stroke-linecap="butt"/>
<path d="M439.4 188.0 L445.2 193.8 L453.9 201.0 L461.2 208.3 L468.4 212.6 L466.9 211.0 L471.0 219.2 L474.1 227.4 L478.2 233.6 L486.4 238.7 L494.7 242.9 L500.8 247.0 L504.9 241.8 L509.1 231.6 L517.3 228.5 L529.6 229.5 L537.8 234.6 L544.0 241.8 L549.1 251.1 L554.3 260.3 L560.4 268.6 L566.6 274.7 L568.7 285.0 L572.8 295.3 L576.9 299.4 L587.2 303.5 L597.4 306.6 L607.7 308.6" fill="none" stroke="#000" stroke-width="1.80" stroke-linejoin="round" stroke-linecap="round" stroke-dasharray="5.5 2.6" stroke-linecap="butt"/>
<path d="M705.2 511.0 L701.8 512.7 L703.0 517.2 L700.2 519.4 L702.4 523.9 L701.8 528.4 L705.2 530.6" fill="none" stroke="#000" stroke-width="1.50" stroke-linejoin="round" stroke-linecap="round" stroke-dasharray="5.5 2.6" stroke-linecap="butt"/>
<path d="M310.7 233.4 L313.6 234.4 L317.1 239.8 L318.6 244.8 L316.6 245.3 L313.6 241.8 L311.1 237.8Z" fill="#d2b48c" stroke="#000" stroke-width="2.0" stroke-linejoin="round"/>
<path d="M330.9 242.8 L333.9 241.3 L335.7 246.2 L334.4 249.7 L331.4 249.2Z" fill="#d2b48c" stroke="#000" stroke-width="2.0" stroke-linejoin="round"/>
<path d="M185.9 138.3 L189.9 138.2 L190.4 138.9 L186.1 139.0Z" fill="#1a1a1a" stroke="#000" stroke-width="1.6" stroke-linejoin="round"/>
<path d="M192.4 138.2 L196.8 138.4 L197.0 139.2 L192.6 139.0Z" fill="#1a1a1a" stroke="#000" stroke-width="1.6" stroke-linejoin="round"/>
<path d="M198.8 138.3 L203.2 138.2 L203.5 138.9 L199.0 139.1Z" fill="#1a1a1a" stroke="#000" stroke-width="1.6" stroke-linejoin="round"/>
<path d="M200.8 155.2 L203.2 154.3 L204.7 156.2 L203.2 157.7 L201.2 157.2Z" fill="#1a1a1a" stroke="#000" stroke-width="1.6" stroke-linejoin="round"/>
<path d="M219.0 150.8 L221.5 151.3 L224.5 153.8 L223.5 154.9 L220.5 153.3Z" fill="#1a1a1a" stroke="#000" stroke-width="1.6" stroke-linejoin="round"/>
<path d="M218.7 161.2 L220.5 160.7 L223.5 165.1 L222.3 166.6 L220.0 163.6Z" fill="#1a1a1a" stroke="#000" stroke-width="1.6" stroke-linejoin="round"/>
<path d="M210.4 150.8 L211.8 150.8 L211.8 152.2 L210.4 152.2Z" fill="#1a1a1a" stroke="#000" stroke-width="1.6" stroke-linejoin="round"/>
<path d="M279.5 259.1 L282.0 259.1 L282.7 264.5 L281.0 266.5 L279.3 264.0Z" fill="#1a1a1a" stroke="#000" stroke-width="1.6" stroke-linejoin="round"/>
<path d="M273.6 259.8 L275.4 259.8 L275.4 261.6 L273.6 261.6Z" fill="#1a1a1a" stroke="#000" stroke-width="1.6" stroke-linejoin="round"/>
<path d="M435.8 391.4 L437.8 391.1 L439.8 393.8 L438.3 394.8Z" fill="#1a1a1a" stroke="#000" stroke-width="1.6" stroke-linejoin="round"/>
<path d="M439.3 394.8 L441.2 394.8 L442.5 397.8 L440.8 398.3Z" fill="#1a1a1a" stroke="#000" stroke-width="1.6" stroke-linejoin="round"/>
<path d="M443.2 399.6 L445.2 399.6 L445.9 401.5 L443.9 401.9Z" fill="#1a1a1a" stroke="#000" stroke-width="1.6" stroke-linejoin="round"/>
<path d="M436.1 391.4 L438.1 391.4 L440.1 394.4 L442.0 397.3 L440.6 398.3 L438.1 395.4Z" fill="#1a1a1a" stroke="#000" stroke-width="1.6" stroke-linejoin="round"/>
<path d="M319.6 248.6 L320.8 248.6 L320.8 249.8 L319.6 249.8Z" fill="#1a1a1a" stroke="#000" stroke-width="1.6" stroke-linejoin="round"/>
<path d="M323.4 252.1 L324.6 252.1 L324.6 253.3 L323.4 253.3Z" fill="#1a1a1a" stroke="#000" stroke-width="1.6" stroke-linejoin="round"/>
<path d="M324.9 253.3 L326.1 253.3 L326.1 254.4 L324.9 254.4Z" fill="#1a1a1a" stroke="#000" stroke-width="1.6" stroke-linejoin="round"/>
<path d="M328.8 252.6 L330.0 252.6 L330.0 253.8 L328.8 253.8Z" fill="#1a1a1a" stroke="#000" stroke-width="1.6" stroke-linejoin="round"/>
<path d="M332.3 259.0 L333.5 259.0 L333.5 260.2 L332.3 260.2Z" fill="#1a1a1a" stroke="#000" stroke-width="1.6" stroke-linejoin="round"/>
<path d="M341.2 277.8 L342.4 277.8 L342.4 279.0 L341.2 279.0Z" fill="#1a1a1a" stroke="#000" stroke-width="1.6" stroke-linejoin="round"/>
<path d="M350.1 266.9 L351.3 266.9 L351.3 268.1 L350.1 268.1Z" fill="#1a1a1a" stroke="#000" stroke-width="1.6" stroke-linejoin="round"/>
<path d="M344.2 291.6 L345.3 291.6 L345.3 292.8 L344.2 292.8Z" fill="#1a1a1a" stroke="#000" stroke-width="1.6" stroke-linejoin="round"/>
<path d="M343.2 293.6 L344.3 293.6 L344.3 294.8 L343.2 294.8Z" fill="#1a1a1a" stroke="#000" stroke-width="1.6" stroke-linejoin="round"/>
<path d="M349.6 294.6 L350.8 294.6 L350.8 295.8 L349.6 295.8Z" fill="#1a1a1a" stroke="#000" stroke-width="1.6" stroke-linejoin="round"/>
<path d="M228.3 238.5 L230.6 238.8 L231.6 246.5 L229.5 248.0 L228.0 243.0Z" fill="#1a1a1a" stroke="#000" stroke-width="1.6" stroke-linejoin="round"/>
<circle cx="361.0" cy="440.0" r="1.7" fill="#000"/>
<circle cx="289.5" cy="457.5" r="1.3" fill="#000"/>
<circle cx="362.4" cy="429.4" r="1.0" fill="#000"/>
<circle cx="505.5" cy="497.0" r="0.8" fill="#000"/>
<path d="M126.1 163.3 L137.0 155.9" fill="none" stroke="#fff" stroke-width="5.0"/>
<path d="M186.8 160.6 L191.3 171.5" fill="none" stroke="#fff" stroke-width="5.0"/>
<path d="M444.9 428.9 L455.2 435.0" fill="none" stroke="#fff" stroke-width="5.0"/>
<path d="M478.2 473.8 L478.2 484.5" fill="none" stroke="#fff" stroke-width="5.0"/>
<path d="M643.3 280.7 L646.3 278.9 L649.9 279.5 L652.2 283.1 L653.6 287.2" fill="none" stroke="#fff" stroke-width="5.0"/>
<path d="M703.1 284.9 L704.3 280.1 L705.7 279.5" fill="none" stroke="#fff" stroke-width="5.0"/>
<path d="M576.9 533.0 L578.9 536.7" fill="none" stroke="#fff" stroke-width="2.6"/>
<polygon points="121.0,167.3 114.9,171.7 117.2,178.9 124.8,178.9 127.1,171.7" fill="#ea6f70" stroke="#000" stroke-width="1.50" stroke-linejoin="miter"/>
<circle cx="188.4" cy="248.4" r="6.15" fill="#66cc66" stroke="#000" stroke-width="1.5"/>
<polygon points="157.5,250.8 152.0,254.0 152.0,260.4 157.5,263.6 163.0,260.4 163.0,254.0" fill="#8de58d" stroke="#000" stroke-width="1.50" stroke-linejoin="miter"/>
<polygon points="159.0,284.3 152.9,288.7 155.2,295.9 162.8,295.9 165.1,288.7" fill="#bdfbbd" stroke="#000" stroke-width="1.50" stroke-linejoin="miter"/>
<polygon points="184.0,283.8 177.9,288.2 180.2,295.4 187.8,295.4 190.1,288.2" fill="#a87063" stroke="#000" stroke-width="1.50" stroke-linejoin="miter"/>
<polygon points="232.4,290.9 226.9,294.1 226.9,300.5 232.4,303.7 237.9,300.5 237.9,294.1" fill="#ffa95e" stroke="#000" stroke-width="1.50" stroke-linejoin="miter"/>
<polygon points="274.5,272.0 269.0,275.2 269.0,281.6 274.5,284.8 280.0,281.6 280.0,275.2" fill="#8c564b" stroke="#000" stroke-width="1.50" stroke-linejoin="miter"/>
<polygon points="288.1,294.6 282.6,297.8 282.6,304.2 288.1,307.4 293.6,304.2 293.6,297.8" fill="#2ca02c" stroke="#000" stroke-width="1.50" stroke-linejoin="miter"/>
<circle cx="103.1" cy="354.2" r="6.15" fill="#f49898" stroke="#000" stroke-width="1.5"/>
<polygon points="250.9,432.5 244.8,436.9 247.1,444.1 254.7,444.1 257.0,436.9" fill="#f19edb" stroke="#000" stroke-width="1.50" stroke-linejoin="miter"/>
<polygon points="189.9,467.7 183.8,472.1 186.1,479.3 193.7,479.3 196.0,472.1" fill="#ffc38e" stroke="#000" stroke-width="1.50" stroke-linejoin="miter"/>
<polygon points="197.3,496.9 191.8,500.1 191.8,506.5 197.3,509.7 202.8,506.5 202.8,500.1" fill="#ffc4c4" stroke="#000" stroke-width="1.50" stroke-linejoin="miter"/>
<circle cx="290.2" cy="531.4" r="6.15" fill="#ffddbf" stroke="#000" stroke-width="1.5"/>
<polygon points="350.4,588.0 344.9,591.2 344.9,597.6 350.4,600.8 355.9,597.6 355.9,591.2" fill="#c5e5fb" stroke="#000" stroke-width="1.50" stroke-linejoin="miter"/>
<circle cx="162.3" cy="624.4" r="6.15" fill="#c48c7f" stroke="#000" stroke-width="1.5"/>
<circle cx="343.4" cy="624.4" r="6.15" fill="#1f77b4" stroke="#000" stroke-width="1.5"/>
<polygon points="83.0,637.0 77.5,640.2 77.5,646.6 83.0,649.8 88.5,646.6 88.5,640.2" fill="#ea8bcf" stroke="#000" stroke-width="1.50" stroke-linejoin="miter"/>
<polygon points="484.8,468.8 478.7,473.2 481.0,480.4 488.6,480.4 490.9,473.2" fill="#5da5d9" stroke="#000" stroke-width="1.50" stroke-linejoin="miter"/>
<polygon points="455.8,480.7 449.7,485.1 452.0,492.3 459.6,492.3 461.9,485.1" fill="#ff7f0e" stroke="#000" stroke-width="1.50" stroke-linejoin="miter"/>
<circle cx="545.4" cy="505.4" r="6.15" fill="#f8b2e8" stroke="#000" stroke-width="1.5"/>
<polygon points="428.3,549.0 422.8,552.2 422.8,558.6 428.3,561.8 433.8,558.6 433.8,552.2" fill="#ffc6f4" stroke="#000" stroke-width="1.50" stroke-linejoin="miter"/>
<circle cx="459.3" cy="579.6" r="6.15" fill="#ff9437" stroke="#000" stroke-width="1.5"/>
<polygon points="544.8,625.2 538.7,629.6 541.0,636.8 548.6,636.8 550.9,629.6" fill="#ffcbbe" stroke="#000" stroke-width="1.50" stroke-linejoin="miter"/>
<polygon points="409.4,637.6 403.9,640.8 403.9,647.2 409.4,650.4 414.9,647.2 414.9,640.8" fill="#e0aa9d" stroke="#000" stroke-width="1.50" stroke-linejoin="miter"/>
<circle cx="630.3" cy="351.6" r="6.15" fill="#e3c3ff" stroke="#000" stroke-width="1.5"/>
<polygon points="687.9,338.0 681.8,342.4 684.1,349.6 691.7,349.6 694.0,342.4" fill="#9467bd" stroke="#000" stroke-width="1.50" stroke-linejoin="miter"/>
<circle cx="697.3" cy="376.4" r="6.15" fill="#d62728" stroke="#000" stroke-width="1.5"/>
<polygon points="615.3,384.2 609.2,388.6 611.5,395.8 619.1,395.8 621.4,388.6" fill="#cfaaf1" stroke="#000" stroke-width="1.50" stroke-linejoin="miter"/>
<polygon points="660.1,412.0 654.6,415.2 654.6,421.6 660.1,424.8 665.6,421.6 665.6,415.2" fill="#e0494a" stroke="#000" stroke-width="1.50" stroke-linejoin="miter"/>
<circle cx="687.5" cy="416.3" r="6.15" fill="#a67cce" stroke="#000" stroke-width="1.5"/>
<polygon points="667.7,299.1 662.2,302.3 662.2,308.7 667.7,311.9 673.2,308.7 673.2,302.3" fill="#ba92df" stroke="#000" stroke-width="1.50" stroke-linejoin="miter"/>
<circle cx="654.4" cy="317.3" r="6.15" fill="#8cc4ec" stroke="#000" stroke-width="1.5"/>
<polygon points="123.0,157.6 115.2,173.1 130.8,173.1" fill="#9467bd" stroke="#000" stroke-width="1.65" stroke-linejoin="miter"/>
<polygon points="195.6,165.1 187.8,180.6 203.3,180.6" fill="#bcbd22" stroke="#000" stroke-width="1.65" stroke-linejoin="miter"/>
<polygon points="234.0,147.1 226.2,162.6 241.8,162.6" fill="#7f7f7f" stroke="#000" stroke-width="1.65" stroke-linejoin="miter"/>
<polygon points="243.3,157.6 235.6,173.1 251.1,173.1" fill="#e377c2" stroke="#000" stroke-width="1.65" stroke-linejoin="miter"/>
<polygon points="438.8,417.6 431.1,433.1 446.6,433.1" fill="#2ca02c" stroke="#000" stroke-width="1.65" stroke-linejoin="miter"/>
<polygon points="478.8,484.9 471.1,500.4 486.6,500.4" fill="#ff7f0e" stroke="#000" stroke-width="1.65" stroke-linejoin="miter"/>
<polygon points="571.7,526.9 564.0,542.4 579.5,542.4" fill="#d62728" stroke="#000" stroke-width="1.65" stroke-linejoin="miter"/>
<polygon points="650.9,284.9 643.1,300.4 658.6,300.4" fill="#17becf" stroke="#000" stroke-width="1.65" stroke-linejoin="miter"/>
<polygon points="700.8,289.1 693.0,304.6 708.5,304.6" fill="#1f77b4" stroke="#000" stroke-width="1.65" stroke-linejoin="miter"/>
<path d="M241.3 166.1 L245.4 163.6" fill="none" stroke="#fff" stroke-width="4.5"/>
</g></g>
<rect x="84.5" y="137.5" width="621.0" height="514.0" fill="none" stroke="#000" stroke-width="1.1"/>
<g stroke="#000" fill="none"><path d="M84.5 137.5v-3.0 M84.5 651.5v3.0" stroke-width="1.6"/><path d="M102.5 137.5v-9.0 M102.5 651.5v9.0" stroke-width="3.0"/><path d="M121.5 137.5v-3.0 M121.5 651.5v3.0" stroke-width="1.6"/><path d="M139.5 137.5v-3.0 M139.5 651.5v3.0" stroke-width="1.6"/><path d="M157.5 137.5v-3.0 M157.5 651.5v3.0" stroke-width="1.6"/><path d="M175.5 137.5v-3.0 M175.5 651.5v3.0" stroke-width="1.6"/><path d="M194.5 137.5v-9.0 M194.5 651.5v9.0" stroke-width="3.0"/><path d="M212.5 137.5v-3.0 M212.5 651.5v3.0" stroke-width="1.6"/><path d="M230.5 137.5v-3.0 M230.5 651.5v3.0" stroke-width="1.6"/><path d="M248.5 137.5v-3.0 M248.5 651.5v3.0" stroke-width="1.6"/><path d="M267.5 137.5v-3.0 M267.5 651.5v3.0" stroke-width="1.6"/><path d="M285.5 137.5v-9.0 M285.5 651.5v9.0" stroke-width="3.0"/><path d="M303.5 137.5v-3.0 M303.5 651.5v3.0" stroke-width="1.6"/><path d="M321.5 137.5v-3.0 M321.5 651.5v3.0" stroke-width="1.6"/><path d="M340.5 137.5v-3.0 M340.5 651.5v3.0" stroke-width="1.6"/><path d="M358.5 137.5v-3.0 M358.5 651.5v3.0" stroke-width="1.6"/><path d="M376.5 137.5v-9.0 M376.5 651.5v9.0" stroke-width="3.0"/><path d="M395.5 137.5v-3.0 M395.5 651.5v3.0" stroke-width="1.6"/><path d="M413.5 137.5v-3.0 M413.5 651.5v3.0" stroke-width="1.6"/><path d="M431.5 137.5v-3.0 M431.5 651.5v3.0" stroke-width="1.6"/><path d="M449.5 137.5v-3.0 M449.5 651.5v3.0" stroke-width="1.6"/><path d="M468.5 137.5v-9.0 M468.5 651.5v9.0" stroke-width="3.0"/><path d="M486.5 137.5v-3.0 M486.5 651.5v3.0" stroke-width="1.6"/><path d="M504.5 137.5v-3.0 M504.5 651.5v3.0" stroke-width="1.6"/><path d="M522.5 137.5v-3.0 M522.5 651.5v3.0" stroke-width="1.6"/><path d="M541.5 137.5v-3.0 M541.5 651.5v3.0" stroke-width="1.6"/><path d="M559.5 137.5v-9.0 M559.5 651.5v9.0" stroke-width="3.0"/><path d="M577.5 137.5v-3.0 M577.5 651.5v3.0" stroke-width="1.6"/><path d="M595.5 137.5v-3.0 M595.5 651.5v3.0" stroke-width="1.6"/><path d="M614.5 137.5v-3.0 M614.5 651.5v3.0" stroke-width="1.6"/><path d="M632.5 137.5v-3.0 M632.5 651.5v3.0" stroke-width="1.6"/><path d="M650.5 137.5v-9.0 M650.5 651.5v9.0" stroke-width="3.0"/><path d="M668.5 137.5v-3.0 M668.5 651.5v3.0" stroke-width="1.6"/><path d="M687.5 137.5v-3.0 M687.5 651.5v3.0" stroke-width="1.6"/><path d="M705.5 137.5v-3.0 M705.5 651.5v3.0" stroke-width="1.6"/><path d="M84.5 650.5h-3.0 M705.5 650.5h3.0" stroke-width="1.6"/><path d="M84.5 632.5h-3.0 M705.5 632.5h3.0" stroke-width="1.6"/><path d="M84.5 614.5h-9.0 M705.5 614.5h9.0" stroke-width="3.0"/><path d="M84.5 595.5h-3.0 M705.5 595.5h3.0" stroke-width="1.6"/><path d="M84.5 577.5h-3.0 M705.5 577.5h3.0" stroke-width="1.6"/><path d="M84.5 558.5h-3.0 M705.5 558.5h3.0" stroke-width="1.6"/><path d="M84.5 540.5h-3.0 M705.5 540.5h3.0" stroke-width="1.6"/><path d="M84.5 521.5h-9.0 M705.5 521.5h9.0" stroke-width="3.0"/><path d="M84.5 502.5h-3.0 M705.5 502.5h3.0" stroke-width="1.6"/><path d="M84.5 483.5h-3.0 M705.5 483.5h3.0" stroke-width="1.6"/><path d="M84.5 464.5h-3.0 M705.5 464.5h3.0" stroke-width="1.6"/><path d="M84.5 445.5h-3.0 M705.5 445.5h3.0" stroke-width="1.6"/><path d="M84.5 426.5h-9.0 M705.5 426.5h9.0" stroke-width="3.0"/><path d="M84.5 407.5h-3.0 M705.5 407.5h3.0" stroke-width="1.6"/><path d="M84.5 387.5h-3.0 M705.5 387.5h3.0" stroke-width="1.6"/><path d="M84.5 368.5h-3.0 M705.5 368.5h3.0" stroke-width="1.6"/><path d="M84.5 348.5h-3.0 M705.5 348.5h3.0" stroke-width="1.6"/><path d="M84.5 328.5h-9.0 M705.5 328.5h9.0" stroke-width="3.0"/><path d="M84.5 308.5h-3.0 M705.5 308.5h3.0" stroke-width="1.6"/><path d="M84.5 288.5h-3.0 M705.5 288.5h3.0" stroke-width="1.6"/><path d="M84.5 267.5h-3.0 M705.5 267.5h3.0" stroke-width="1.6"/><path d="M84.5 247.5h-3.0 M705.5 247.5h3.0" stroke-width="1.6"/><path d="M84.5 226.5h-9.0 M705.5 226.5h9.0" stroke-width="3.0"/><path d="M84.5 205.5h-3.0 M705.5 205.5h3.0" stroke-width="1.6"/><path d="M84.5 183.5h-3.0 M705.5 183.5h3.0" stroke-width="1.6"/><path d="M84.5 162.5h-3.0 M705.5 162.5h3.0" stroke-width="1.6"/></g>
<text x="68.1" y="622.9" font-family="Liberation Sans, sans-serif" font-size="23.6" text-anchor="end" font-weight="normal" font-style="normal" textLength="54.3" lengthAdjust="spacingAndGlyphs" >10°N</text>
<text x="68.1" y="529.9" font-family="Liberation Sans, sans-serif" font-size="23.6" text-anchor="end" font-weight="normal" font-style="normal" textLength="54.3" lengthAdjust="spacingAndGlyphs" >15°N</text>
<text x="68.1" y="434.9" font-family="Liberation Sans, sans-serif" font-size="23.6" text-anchor="end" font-weight="normal" font-style="normal" textLength="54.3" lengthAdjust="spacingAndGlyphs" >20°N</text>
<text x="68.1" y="336.9" font-family="Liberation Sans, sans-serif" font-size="23.6" text-anchor="end" font-weight="normal" font-style="normal" textLength="54.3" lengthAdjust="spacingAndGlyphs" >25°N</text>
<text x="68.1" y="234.9" font-family="Liberation Sans, sans-serif" font-size="23.6" text-anchor="end" font-weight="normal" font-style="normal" textLength="54.3" lengthAdjust="spacingAndGlyphs" >30°N</text>
<g transform="translate(100.0,702.0) rotate(-45)"><text x="0.0" y="8.5" font-family="Liberation Sans, sans-serif" font-size="23.6" text-anchor="middle" font-weight="normal" font-style="normal" textLength="75.2" lengthAdjust="spacingAndGlyphs" >125°W</text></g>
<g transform="translate(192.0,702.0) rotate(-45)"><text x="0.0" y="8.5" font-family="Liberation Sans, sans-serif" font-size="23.6" text-anchor="middle" font-weight="normal" font-style="normal" textLength="75.2" lengthAdjust="spacingAndGlyphs" >120°W</text></g>
<g transform="translate(283.0,702.0) rotate(-45)"><text x="0.0" y="8.5" font-family="Liberation Sans, sans-serif" font-size="23.6" text-anchor="middle" font-weight="normal" font-style="normal" textLength="75.2" lengthAdjust="spacingAndGlyphs" >115°W</text></g>
<g transform="translate(374.0,702.0) rotate(-45)"><text x="0.0" y="8.5" font-family="Liberation Sans, sans-serif" font-size="23.6" text-anchor="middle" font-weight="normal" font-style="normal" textLength="75.2" lengthAdjust="spacingAndGlyphs" >110°W</text></g>
<g transform="translate(466.0,702.0) rotate(-45)"><text x="0.0" y="8.5" font-family="Liberation Sans, sans-serif" font-size="23.6" text-anchor="middle" font-weight="normal" font-style="normal" textLength="75.2" lengthAdjust="spacingAndGlyphs" >105°W</text></g>
<g transform="translate(557.0,702.0) rotate(-45)"><text x="0.0" y="8.5" font-family="Liberation Sans, sans-serif" font-size="23.6" text-anchor="middle" font-weight="normal" font-style="normal" textLength="75.2" lengthAdjust="spacingAndGlyphs" >100°W</text></g>
<g transform="translate(648.0,697.0) rotate(-45)"><text x="0.0" y="8.5" font-family="Liberation Sans, sans-serif" font-size="23.6" text-anchor="middle" font-weight="normal" font-style="normal" textLength="61.0" lengthAdjust="spacingAndGlyphs" >95°W</text></g>
<g clip-path="url(#clipR)"><g transform="translate(729.6,0)">
<g filter="url(#rough)">
<rect x="40" y="90" width="720" height="610" fill="#2234a4"/>
<path d="M81.8 135.4 L104.8 135.4 L104.8 138.6 L99.9 153.5 L98.2 166.6 L101.5 179.8 L106.5 188.1 L121.3 191.3 L122.9 184.8 L131.2 178.2 L139.4 171.6 L149.3 169.1 L159.2 171.6 L165.7 178.2 L172.3 184.8 L175.6 193.0 L174.0 202.9 L175.6 209.5 L169.0 214.4 L162.5 206.2 L155.9 199.6 L149.3 202.9 L142.7 209.5 L137.7 219.3 L141.0 224.3 L149.3 216.1 L157.5 209.5 L165.7 216.1 L175.6 219.3 L182.2 224.3 L192.1 221.0 L202.0 219.3 L211.9 217.7 L215.2 221.0 L210.2 229.2 L206.9 235.8 L198.7 234.2 L190.4 235.8 L183.9 242.4 L178.9 249.0 L180.6 257.2 L185.5 262.2 L192.1 262.2 L198.7 257.2 L205.3 255.6 L213.5 258.9 L216.8 262.2 L210.2 268.8 L202.0 270.4 L195.4 273.7 L190.4 280.3 L195.4 285.2 L197.0 291.8 L192.1 304.0 L182.2 304.0 L172.3 310.6 L170.7 313.9 L162.5 320.5 L155.9 328.7 L149.3 336.9 L146.0 345.2 L137.7 353.4 L129.5 350.1 L122.9 353.4 L116.3 360.0 L108.1 364.9 L99.9 361.6 L91.6 364.9 L83.4 366.6 L80.1 366.6Z" fill="#2e1a87" />
<path d="M82.6 252.3 L91.6 255.6 L98.2 268.8 L101.5 285.2 L106.5 304.0 L113.0 304.0 L121.3 310.6 L116.3 318.8 L103.2 322.1 L93.3 317.2 L82.6 318.8Z" fill="#2a186c" />
<path d="M116.3 235.8 L126.2 234.2 L132.8 239.1 L129.5 243.2 L119.6 242.4Z" fill="#2a186c" />
<path d="M175.6 244.0 L182.2 239.1 L192.1 237.5 L198.7 242.4 L197.0 249.0 L188.8 252.3 L180.6 252.3Z" fill="#2234a4" />
<path d="M127.9 135.4 L127.9 138.6 L131.2 145.2 L139.4 150.2 L149.3 153.5 L159.2 158.4 L169.0 163.4 L178.9 168.3 L185.5 174.9 L190.4 184.8 L190.4 194.6 L192.1 206.2 L198.7 211.1 L208.6 209.5 L218.4 206.2 L228.3 202.9 L236.6 207.8 L239.9 214.4 L234.9 219.3 L226.7 224.3 L220.1 230.9 L216.8 237.5 L218.4 249.0 L223.4 258.9 L221.7 268.8 L215.2 275.3 L208.6 280.3 L202.0 285.2 L200.3 295.1 L202.0 304.0 L198.7 304.0 L197.0 313.9 L192.1 325.4 L188.8 335.3 L175.6 338.6 L162.5 341.9 L159.2 351.8 L149.3 360.0 L137.7 364.9 L132.8 373.2 L124.6 381.4 L121.3 389.6 L108.1 396.2 L99.9 399.5 L93.3 406.1 L90.0 419.3 L88.3 432.5 L86.7 445.6 L83.4 448.9 L80.1 448.9 L60.0 660.0 L720.0 660.0 L720.0 120.0Z" fill="#0e5295" />
<path d="M149.3 141.9 L160.8 140.3 L172.3 143.6 L175.6 150.2 L169.0 155.1 L157.5 153.5 L150.9 148.5Z" fill="#1a678a" />
<path d="M221.7 176.5 L231.6 174.9 L239.9 179.8 L238.2 184.8 L228.3 184.8 L223.4 181.5Z" fill="#1a678a" />
<path d="M198.7 140.3 L215.2 141.9 L231.6 146.9 L244.8 156.8 L249.7 169.9 L241.5 166.6 L231.6 156.8 L215.2 150.2 L202.0 146.9Z" fill="#1a678a" />
<path d="M256.3 171.6 L249.7 176.5 L248.1 186.4 L254.7 199.6 L261.3 211.1 L264.6 222.6 L258.0 229.2 L248.1 229.2 L238.2 232.5 L231.6 239.1 L228.3 249.0 L231.6 258.9 L228.3 268.8 L221.7 277.0 L216.8 285.2 L215.2 295.1 L220.1 304.0 L262.9 304.0 L258.0 312.2 L248.1 313.9 L238.2 317.2 L231.6 322.1 L223.4 328.7 L218.4 336.9 L213.5 346.8 L206.9 353.4 L203.6 363.3 L202.0 373.2 L198.7 379.8 L188.8 381.4 L182.2 378.1 L172.3 381.4 L162.5 386.3 L152.6 389.6 L149.3 397.9 L139.4 399.5 L136.1 406.1 L129.5 412.7 L121.3 412.7 L113.0 417.6 L103.2 416.0 L93.3 417.6 L91.6 429.2 L88.3 444.0 L83.4 452.2 L80.1 452.2 L60.0 660.0 L720.0 660.0 L720.0 200.0Z" fill="#1a678a" />
<path d="M274.4 225.9 L269.5 229.2 L264.6 235.8 L272.8 244.0 L277.7 252.3 L272.8 262.2 L261.3 268.8 L248.1 272.0 L238.2 278.6 L231.6 285.2 L228.3 295.1 L231.6 304.0 L267.9 304.0 L266.2 313.9 L254.7 320.5 L241.5 325.4 L234.9 332.0 L228.3 341.9 L220.1 351.8 L213.5 360.0 L211.9 373.2 L220.1 376.5 L223.4 381.4 L213.5 388.0 L202.0 392.9 L195.4 397.9 L185.5 402.8 L178.9 411.0 L175.6 422.6 L169.0 429.2 L162.5 435.8 L154.2 432.5 L146.0 425.9 L132.8 429.2 L122.9 432.5 L113.0 435.8 L103.2 440.7 L96.6 447.3 L93.3 455.5 L88.3 462.1 L83.4 463.7 L80.1 463.7 L60.0 660.0 L720.0 660.0 L720.0 250.0Z" fill="#29798a" />
<path d="M286.0 258.9 L281.0 262.2 L272.8 268.8 L262.9 275.3 L258.0 281.9 L251.4 285.2 L248.1 293.5 L251.4 304.0 L286.0 304.0 L286.0 313.9 L272.8 318.8 L258.0 323.8 L244.8 327.1 L236.6 336.9 L231.6 346.8 L226.7 358.3 L231.6 369.9 L238.2 378.1 L243.1 389.6 L248.1 396.2 L241.5 402.8 L234.9 409.4 L238.2 416.0 L228.3 409.4 L215.2 406.1 L205.3 411.0 L198.7 419.3 L197.0 430.8 L188.8 429.2 L182.2 435.8 L175.6 442.3 L165.7 444.0 L155.9 445.6 L154.2 452.2 L146.0 448.9 L139.4 435.8 L129.5 437.4 L116.3 444.0 L106.5 448.9 L99.9 457.2 L93.3 462.1 L90.0 471.0 L83.4 476.3 L79.8 476.3 L60.0 660.0 L720.0 660.0 L720.0 260.0Z" fill="#388b88" />
<path d="M253.0 356.7 L261.3 348.5 L272.8 345.2 L277.7 348.5 L271.1 355.1 L261.3 360.0Z" fill="#29798a" />
<path d="M294.2 275.3 L289.3 278.6 L282.7 285.2 L277.7 291.8 L276.1 304.0 L289.3 304.0 L289.3 320.5 L290.9 333.6 L294.2 343.5 L287.6 353.4 L271.1 361.6 L261.3 369.9 L264.6 378.1 L269.5 386.3 L272.8 396.2 L264.6 406.1 L258.0 416.0 L248.1 422.6 L238.2 429.2 L231.6 434.1 L225.0 440.7 L215.2 447.3 L205.3 452.2 L192.1 448.9 L185.5 442.3 L175.6 448.9 L165.7 452.2 L160.8 458.8 L155.9 468.7 L149.3 458.8 L142.7 452.2 L132.8 445.6 L122.9 447.3 L113.0 452.2 L104.8 460.5 L99.9 471.0 L94.1 485.2 L83.4 481.7 L79.8 481.7 L60.0 660.0 L720.0 660.0 L720.0 265.0Z" fill="#419e86" />
<path d="M302.4 285.2 L297.5 288.5 L294.2 295.1 L290.9 304.0 L329.0 332.0 L324.1 336.9 L325.8 346.8 L319.2 353.4 L312.6 358.3 L306.0 353.4 L304.3 363.3 L299.4 366.6 L297.5 366.6 L289.3 369.9 L281.0 376.5 L277.7 386.3 L281.0 396.2 L279.4 409.4 L277.7 422.6 L274.4 434.1 L269.5 440.7 L258.0 432.5 L244.8 432.5 L234.9 440.7 L231.6 448.9 L225.0 452.2 L215.2 455.5 L205.3 458.8 L198.7 457.2 L188.8 453.9 L182.2 458.8 L175.6 462.1 L172.3 471.0 L186.4 471.0 L182.8 476.3 L168.6 478.1 L154.4 481.7 L136.7 479.9 L118.9 483.4 L104.7 488.8 L94.1 485.2 L83.4 506.5 L79.8 506.5 L60.0 660.0 L720.0 660.0 L720.0 270.0Z" fill="#50b07d" />
<path d="M211.2 470.1 L214.8 479.9 L223.7 488.8 L236.1 488.8 L227.2 481.7 L225.4 470.1Z" fill="#419e86" />
<path d="M342.2 341.9 L338.9 345.2 L332.3 346.8 L327.4 351.8 L330.7 358.3 L338.9 360.0 L348.8 358.3 L355.4 363.3 L352.1 373.2 L345.5 379.8 L348.8 386.3 L347.2 396.2 L348.8 406.1 L345.5 416.0 L337.3 419.3 L330.7 416.0 L329.0 406.1 L324.1 396.2 L320.8 388.0 L309.3 386.3 L302.7 392.9 L299.4 396.2 L295.9 389.6 L287.6 399.5 L286.0 411.0 L281.0 419.3 L289.3 422.6 L302.4 425.9 L309.0 432.5 L297.5 435.8 L287.6 440.7 L274.4 444.0 L269.5 452.2 L264.6 447.3 L254.7 442.3 L244.8 444.0 L239.9 452.2 L244.8 462.1 L241.5 471.0 L239.6 471.0 L243.2 481.7 L236.1 490.5 L221.9 488.8 L211.2 479.9 L205.9 471.0 L186.4 471.0 L179.3 478.1 L168.6 485.2 L158.0 488.8 L147.3 490.5 L136.7 488.8 L122.5 492.3 L115.4 501.2 L104.7 508.3 L94.1 504.7 L83.4 506.5 L79.8 506.5 L60.0 660.0 L720.0 660.0 L720.0 120.0 L400.0 120.0Z" fill="#69c170" />
<path d="M298.6 427.5 L309.3 432.5 L307.6 444.0 L306.0 458.8 L298.6 458.8Z" fill="#50b07d" />
<path d="M376.8 368.2 L378.5 369.9 L381.7 374.8 L391.6 373.2 L394.9 379.8 L404.8 383.1 L413.0 386.3 L411.4 396.2 L414.7 406.1 L421.3 409.4 L414.7 416.0 L413.0 425.9 L404.8 429.2 L398.2 435.8 L391.6 432.5 L381.7 425.9 L375.2 424.2 L371.9 432.5 L365.3 435.8 L363.6 444.0 L362.0 455.5 L365.3 471.0 L333.4 495.9 L326.7 497.6 L317.8 503.0 L305.3 508.3 L292.9 511.8 L278.7 513.6 L269.8 517.2 L268.1 526.0 L261.0 530.5 L253.9 527.8 L239.6 528.7 L225.4 529.6 L214.8 533.1 L200.6 531.4 L189.9 527.8 L179.3 524.3 L182.8 510.1 L175.7 504.7 L163.3 503.0 L154.4 504.7 L143.8 506.5 L133.1 503.0 L134.9 513.6 L127.8 520.7 L118.9 527.8 L117.1 542.0 L108.3 549.1 L104.7 558.0 L94.1 552.7 L83.4 554.5 L79.8 554.5 L60.0 660.0 L720.0 660.0 L720.0 120.0 L420.0 120.0Z" fill="#8ed05f" />
<path d="M340.6 358.3 L353.7 360.0 L368.6 366.6 L362.0 369.9 L348.8 366.6 L337.3 369.9 L329.0 373.2 L330.7 364.9Z" fill="#8ed05f" />
<path d="M294.2 401.2 L304.1 397.9 L307.4 404.5 L299.1 409.4Z" fill="#8ed05f" />
<path d="M332.2 443.8 L363.1 443.8 L365.6 459.9 L360.6 477.2 L350.7 487.1 L332.2 494.5Z" fill="#69c170" />
<path d="M517.4 513.3 L519.2 516.9 L518.3 527.7 L522.9 542.2 L531.9 553.0 L544.5 560.2 L558.9 565.6 L575.2 567.4 L587.8 563.8 L589.6 556.6 L578.8 560.2 L564.3 562.0 L549.9 556.6 L539.1 549.4 L531.9 538.6 L530.1 529.5 L539.1 524.1 L551.7 520.5 L553.5 515.1 L540.9 511.5 L528.3 511.5Z" fill="#c4dc65" />
<path d="M535.5 533.1 L542.7 529.5 L551.7 531.3 L548.1 534.9 L540.9 536.8Z" fill="#c4dc65" />
<path d="M513.8 475.4 L521.0 477.2 L522.9 489.8 L528.3 488.0 L533.7 482.6 L544.5 486.2 L540.9 493.5 L531.9 498.9 L522.9 506.1 L517.4 497.1Z" fill="#c4dc65" />
<path d="M580.6 502.5 L593.2 504.3 L607.6 511.5 L625.7 515.1 L643.7 506.1 L654.6 507.9 L667.2 516.9 L681.6 529.5 L705.1 542.2 L712.3 545.8 L712.3 589.1 L705.1 585.5 L690.6 578.2 L679.8 571.0 L669.0 578.2 L658.2 581.9 L647.3 585.5 L636.5 578.2 L625.7 578.2 L614.9 571.0 L605.8 578.2 L596.8 567.4 L586.0 572.8 L587.8 560.2 L586.0 547.6 L589.6 538.6 L596.8 529.5 L589.6 520.5Z" fill="#c4dc65" />
<path d="M571.6 509.7 L580.6 516.9 L577.0 520.5 L571.6 516.9Z" fill="#8ed05f" />
<path d="M600.4 516.9 L614.9 522.3 L629.3 529.5 L636.5 538.6 L629.3 536.8 L614.9 529.5 L602.2 524.1Z" fill="#8ed05f" />
<path d="M636.5 547.6 L650.9 542.2 L661.8 549.4 L669.0 563.8 L661.8 574.6 L647.3 578.2 L636.5 571.0 L634.7 556.6Z" fill="#8ed05f" />
<path d="M654.6 529.5 L665.4 531.3 L679.8 538.6 L694.2 545.8 L697.8 553.0 L683.4 547.6 L669.0 540.4 L656.4 534.9Z" fill="#8ed05f" />
<path d="M589.6 542.2 L600.4 540.4 L614.9 545.8 L625.7 553.0 L614.9 553.0 L600.4 547.6Z" fill="#8ed05f" />
<path d="M665.4 596.3 L676.2 590.9 L690.6 596.3 L697.8 607.1 L705.1 610.7 L712.3 610.7 L712.3 654.0 L679.8 654.0 L672.6 636.0 L667.2 621.5 L663.6 607.1Z" fill="#c4dc65" />
<path d="M670.8 599.9 L679.8 596.3 L690.6 603.5 L696.0 614.3 L697.8 627.0 L690.6 625.2 L687.0 612.5 L678.0 603.5 L672.6 607.1 L676.2 621.5 L679.8 632.4 L674.4 632.4 L669.0 617.9Z" fill="#8ed05f" />
<path d="M586.0 641.4 L596.8 632.4 L611.3 634.2 L625.7 639.6 L640.1 636.0 L654.6 643.2 L658.2 654.0 L586.0 654.0Z" fill="#c4dc65" />
<path d="M600.4 641.4 L611.3 638.7 L625.7 645.0 L636.5 643.2 L643.7 648.6 L625.7 650.4 L607.6 646.8Z" fill="#8ed05f" />
<path d="M629.3 608.9 L643.7 603.5 L650.9 605.3 L636.5 612.5Z" fill="#c4dc65" />
<path d="M625.7 623.3 L636.5 621.5 L632.9 627.0Z" fill="#c4dc65" />
<path d="M647.3 623.3 L656.4 623.3 L654.6 628.8Z" fill="#c4dc65" />
<path d="M583.3 603.5 L587.8 601.7 L586.0 608.9Z" fill="#c4dc65" />
<path d="M444.9 476.0 L452.3 474.7 L454.8 479.7 L447.3 482.2Z" fill="#c4dc65" />
<path d="M442.4 514.4 L451.1 510.6 L452.3 514.4 L444.9 518.1Z" fill="#c4dc65" />
<path d="M479.5 529.2 L487.0 530.5 L491.9 536.7 L484.5 537.9Z" fill="#c4dc65" />
<path d="M485.7 549.0 L494.4 547.8 L496.9 554.0 L489.5 556.5Z" fill="#c4dc65" />
<path d="M484.5 511.9 L489.5 511.9 L490.7 518.1 L485.7 516.8Z" fill="#c4dc65" />
<path d="M514.2 477.2 L521.7 474.7 L526.6 487.1 L539.0 484.6 L548.9 492.1 L544.0 504.5 L531.6 506.9 L521.7 499.5Z" fill="#c4dc65" />
<path d="M283.0 182.0 L300.0 180.0 L350.0 205.0 L400.0 300.0 L425.0 332.0 L400.0 337.0 L372.0 337.0 L350.0 300.0 L330.0 300.0 L290.0 240.0Z" fill="#98b6e1" />
<path d="M334.9 266.5 L338.8 260.6 L344.7 264.5 L351.7 266.5 L358.6 271.4 L363.5 276.4 L368.5 283.3 L373.4 288.2 L378.3 293.2 L382.3 298.1 L388.2 304.1 L384.2 303.0 L385.2 309.9 L389.2 318.8 L393.1 323.7 L398.1 327.7 L405.0 330.6 L402.0 333.6 L399.1 339.5 L398.1 343.5 L398.1 334.6 L395.1 328.7 L391.1 330.6 L387.2 335.6 L381.3 339.5 L375.3 341.5 L369.4 334.6 L365.5 328.7 L362.5 323.7 L360.5 319.8 L358.0 314.8 L355.1 309.9 L352.6 304.9 L351.1 300.0 L361.0 319.9 L357.6 313.9 L354.6 309.0 L353.6 304.1 L351.2 300.1 L348.2 296.1 L344.7 293.2 L343.3 289.2 L340.3 286.3 L338.3 282.3 L336.3 278.9 L333.4 275.4 L329.4 271.4Z" fill="#c4dc65" />
<path d="M324.0 252.7 L327.0 250.7 L330.9 254.6 L334.9 258.6 L338.8 264.5 L336.8 268.5 L338.8 274.4 L344.7 280.3 L349.7 286.3 L353.6 293.2 L354.6 297.1 L348.7 294.2 L344.7 289.2 L339.8 282.3 L334.9 276.4 L328.9 271.4 L326.0 266.5 L324.5 260.6Z" fill="#c4dc65" />
<path d="M298.5 216.8 L309.7 215.9 L312.5 228.1 L321.9 235.6 L329.4 244.9 L333.1 254.3 L345.3 263.7 L354.7 271.1 L367.8 282.4 L382.8 301.1 L375.3 301.1 L350.9 274.9 L332.2 259.9 L317.2 244.9 L302.2 231.8Z" fill="#c4dc65" />
<path d="M298.5 220.6 L304.1 215.0 L308.8 220.6 L310.7 229.9 L319.1 233.7 L324.7 241.2 L326.6 248.7 L321.0 244.9 L315.4 239.3 L307.9 233.7 L300.4 228.1Z" fill="#ece785" />
<path d="M328.5 263.7 L334.1 267.4 L336.0 274.9 L330.3 272.1Z" fill="#ece785" />
<path d="M375.3 338.6 L382.8 333.0 L390.3 331.1 L401.5 334.8 L409.0 338.6 L418.4 349.8 L425.9 359.9 L431.5 376.0 L382.8 376.0 L379.0 347.9Z" fill="#8ed05f" />
</g>
<path d="M590.0 215.0 L720.0 215.0 L720.0 470.0 L640.0 470.0 L590.0 400.0Z" fill="#98b6e1" />
<g filter="url(#rough2)">
<path d="M710.2 267.1 L690.1 267.7 L686.6 269.2 L672.4 269.2 L660.5 268.5 L658.1 267.3 L651.0 267.7 L640.4 269.7 L630.9 273.6 L624.8 278.9 L621.7 286.0 L621.4 297.9 L622.2 308.5 L622.9 315.6 L620.3 321.6 L617.3 328.7 L616.2 330.0 L612.0 338.3 L607.9 345.2 L605.9 353.5 L605.1 364.5 L603.5 374.2 L604.3 382.4 L606.2 390.7 L607.3 397.6 L611.5 405.9 L615.6 412.8 L619.7 419.7 L623.9 426.6 L626.6 433.5 L630.8 440.7 L638.0 447.0 L645.6 451.4 L655.9 453.1 L662.8 454.9 L670.4 453.1 L677.7 450.3 L684.9 447.3 L690.4 441.2 L695.7 435.2 L700.6 430.7 L702.6 423.8 L700.5 415.6 L698.4 407.3 L697.7 399.0 L699.1 390.7 L703.2 385.2 L712.5 383.8Z" fill="#fdef9a" />
</g>
<path d="M249.2 171.5 L248.2 180.4 L253.1 189.3 L258.1 202.2 L264.0 212.1 L267.0 220.0 L268.9 225.9 L268.7 224.0 L269.6 229.9 L272.6 236.9 L276.6 243.8 L279.5 250.7 L280.5 257.6 L279.5 262.5 L280.0 269.0 L283.5 273.4 L287.4 277.4 L293.4 284.3 L299.3 289.2 L303.2 295.2 L309.2 301.1 L315.1 308.0 L322.0 319.9 L320.0 316.8 L324.9 316.3 L328.9 319.8 L330.9 325.7 L332.8 331.6 L336.8 336.6 L342.7 343.5 L349.6 344.5 L355.6 347.4 L361.5 352.4 L366.4 357.3 L371.4 363.2 L379.3 359.3 L359.5 329.6 L339.8 304.9 L309.2 264.5 L289.4 234.9 L259.1 173.5Z" fill="#98b6e1" />
<path d="M408.9 332.6 L410.9 342.5 L418.8 348.4 L427.7 355.3 L433.6 361.3 L440.6 371.1 L443.5 379.1 L444.5 388.9 L451.4 394.9 L443.7 380.0 L444.2 392.8 L449.6 395.8 L456.6 400.8 L457.1 406.7 L453.6 410.6 L461.5 409.6 L466.4 399.8 L461.5 384.9 L459.5 375.1 L443.5 359.3 L418.8 334.6Z" fill="#98b6e1" />
<path d="M638.6 505.1 L645.3 505.1 L652.0 505.1 L658.7 506.2 L665.4 509.6 L667.7 517.2 L674.4 521.7 L682.2 527.3 L684.5 531.8 L691.2 532.9 L696.8 537.4 L705.2 543.0 L712.5 547.4 L712.5 528.4 L685.6 506.0 L652.0 494.8Z" fill="#98b6e1" />
<path d="M221.0 128.1 L221.0 138.0 L222.7 142.9 L227.9 144.7 L232.9 146.8 L236.8 151.3 L240.8 154.9 L243.2 159.7 L244.2 165.6 L245.7 172.5 L248.2 178.0 L251.1 182.2 L253.9 185.4 L255.6 188.2 L254.3 191.8 L256.9 195.5 L259.1 198.4 L260.7 202.4 L263.6 206.7 L265.8 211.1 L267.2 216.0 L269.4 219.6 L270.5 223.9 L269.6 226.0 L270.8 229.4 L274.6 232.9 L279.5 235.4 L284.5 237.8 L289.4 241.3 L293.4 245.8 L298.3 250.2 L301.8 254.6 L302.5 259.6 L301.5 264.5 L303.2 269.5 L304.2 273.4 L300.8 274.4 L298.3 270.9 L295.3 270.7 L289.4 270.7 L284.5 270.9 L281.0 269.0 L283.5 271.9 L286.4 274.4 L291.4 278.9 L295.3 283.3 L299.3 285.8 L304.2 288.2 L309.2 292.2 L311.3 293.2 L313.6 290.7 L317.6 291.4 L318.6 287.7 L319.5 293.2 L322.0 295.2 L325.0 298.1 L328.4 301.1 L327.9 301.5 L330.9 303.0 L334.8 306.9 L337.3 311.9 L338.8 317.8 L338.0 322.7 L335.8 327.7 L334.8 331.6 L338.8 334.6 L343.7 337.5 L348.7 340.5 L353.6 343.5 L358.5 347.4 L363.5 351.4 L368.4 355.3 L371.4 359.3 L373.4 364.2 L375.3 368.2 L377.8 369.7 L381.3 368.2 L385.7 365.2 L387.4 361.3 L386.4 357.3 L383.7 354.8 L381.8 351.4 L380.5 346.4 L379.3 342.5 L377.8 340.0 L376.5 343.5 L373.9 340.5 L371.4 337.5 L369.4 335.6 L369.1 343.5 L366.4 343.5 L364.0 339.5 L363.5 334.6 L365.5 330.6 L364.5 326.7 L361.5 324.7 L359.5 320.8 L357.1 315.8 L354.1 310.9 L351.6 305.9 L349.6 300.0 L349.2 299.1 L346.7 296.1 L342.8 293.2 L341.8 289.2 L338.8 286.3 L336.8 282.3 L334.9 278.9 L331.9 275.4 L327.9 271.4 L326.0 267.5 L325.0 262.5 L324.0 258.6 L322.0 254.6 L319.1 250.7 L313.1 247.7 L310.7 244.8 L310.2 241.3 L307.2 237.8 L301.3 232.9 L297.3 230.4 L295.3 228.0 L292.4 225.0 L293.2 224.3 L291.2 221.4 L291.2 216.4 L290.3 210.5 L288.3 204.6 L285.8 199.6 L286.8 194.7 L288.3 189.8 L286.3 185.3 L290.8 188.3 L295.7 190.8 L300.6 193.2 L303.6 190.8 L307.5 192.7 L310.5 197.2 L315.5 199.2 L320.4 200.6 L319.4 205.6 L320.4 209.5 L323.4 214.5 L325.3 219.4 L326.8 224.3 L328.9 229.9 L331.9 234.9 L334.9 238.8 L336.3 244.8 L338.8 248.7 L342.8 250.7 L344.7 255.6 L349.7 259.6 L352.6 264.5 L357.6 268.5 L364.5 269.0 L367.0 271.4 L366.0 277.4 L368.5 281.3 L372.4 284.3 L378.3 285.3 L380.3 290.2 L384.3 293.2 L388.2 293.2 L390.0 296.1 L393.1 300.0 L389.2 304.0 L386.2 308.9 L387.2 313.8 L393.1 317.3 L399.1 319.3 L405.0 321.7 L409.9 325.7 L412.9 330.6 L414.9 334.6 L420.8 338.5 L424.7 342.5 L429.7 345.5 L433.6 351.4 L437.6 356.3 L441.5 362.3 L446.5 367.2 L451.4 371.1 L454.4 377.1 L454.6 380.0 L456.1 384.9 L458.0 389.9 L459.5 393.8 L463.5 396.8 L464.0 401.2 L461.5 405.7 L458.5 409.6 L461.5 411.6 L463.5 414.1 L461.5 416.1 L457.1 416.6 L454.6 418.0 L456.1 422.5 L458.5 426.4 L461.5 431.4 L465.5 435.3 L468.4 439.3 L473.4 441.8 L479.3 443.7 L484.2 447.2 L489.2 450.7 L493.1 455.1 L495.1 458.6 L501.0 460.5 L507.0 462.5 L513.9 464.5 L519.8 466.0 L523.8 465.0 L526.7 467.9 L529.7 471.4 L534.6 474.4 L539.6 477.3 L540.0 478.6 L546.7 481.4 L553.4 484.2 L560.2 486.4 L563.5 489.2 L571.4 490.9 L580.3 492.0 L584.8 495.9 L590.4 498.2 L596.0 500.4 L600.5 502.6 L607.2 503.8 L612.8 506.0 L618.4 508.2 L622.9 508.8 L628.5 507.7 L634.1 505.4 L639.7 503.8 L644.2 500.4 L649.8 498.7 L656.5 498.4 L663.2 499.8 L668.8 502.1 L674.4 504.9 L680.0 509.4 L685.6 515.0 L691.2 520.6 L696.8 526.2 L701.3 530.1 L705.2 533.4 L714.7 541.3 L715.2 449.8 L700.1 451.4 L691.8 452.8 L683.5 456.3 L675.2 458.3 L666.9 460.4 L660.0 462.5 L655.2 457.7 L651.8 454.2 L647.6 451.4 L640.7 450.8 L635.2 450.1 L633.8 447.3 L630.4 443.2 L626.2 439.0 L624.9 432.1 L622.1 426.6 L618.0 421.1 L613.8 415.6 L609.7 410.0 L606.9 403.1 L604.2 396.2 L600.7 390.7 L599.3 383.8 L598.6 375.5 L598.6 365.9 L599.0 354.8 L599.3 345.2 L600.7 336.9 L602.8 330.0 L604.3 327.5 L606.6 320.4 L608.4 314.5 L610.2 308.5 L610.8 302.6 L609.6 296.7 L608.4 290.8 L607.8 284.9 L608.4 278.9 L610.8 273.0 L614.3 268.3 L619.1 263.5 L623.8 260.0 L629.7 255.3 L635.6 251.7 L641.6 248.7 L646.3 245.8 L651.0 241.6 L655.8 238.1 L660.5 235.1 L665.2 233.4 L670.0 231.6 L674.7 231.0 L680.6 230.4 L686.6 231.6 L693.7 233.9 L700.8 234.5 L705.5 235.1 L712.6 235.4 L720.0 120.0 L221.0 120.0Z" fill="none" stroke="#98b6e1" stroke-width="4.5" stroke-linejoin="round"/>
<path d="M84 138.6H222" stroke="#98b6e1" stroke-width="1.2"/>
<path d="M221.0 128.1 L221.0 138.0 L222.7 142.9 L227.9 144.7 L232.9 146.8 L236.8 151.3 L240.8 154.9 L243.2 159.7 L244.2 165.6 L245.7 172.5 L248.2 178.0 L251.1 182.2 L253.9 185.4 L255.6 188.2 L254.3 191.8 L256.9 195.5 L259.1 198.4 L260.7 202.4 L263.6 206.7 L265.8 211.1 L267.2 216.0 L269.4 219.6 L270.5 223.9 L269.6 226.0 L270.8 229.4 L274.6 232.9 L279.5 235.4 L284.5 237.8 L289.4 241.3 L293.4 245.8 L298.3 250.2 L301.8 254.6 L302.5 259.6 L301.5 264.5 L303.2 269.5 L304.2 273.4 L300.8 274.4 L298.3 270.9 L295.3 270.7 L289.4 270.7 L284.5 270.9 L281.0 269.0 L283.5 271.9 L286.4 274.4 L291.4 278.9 L295.3 283.3 L299.3 285.8 L304.2 288.2 L309.2 292.2 L311.3 293.2 L313.6 290.7 L317.6 291.4 L318.6 287.7 L319.5 293.2 L322.0 295.2 L325.0 298.1 L328.4 301.1 L327.9 301.5 L330.9 303.0 L334.8 306.9 L337.3 311.9 L338.8 317.8 L338.0 322.7 L335.8 327.7 L334.8 331.6 L338.8 334.6 L343.7 337.5 L348.7 340.5 L353.6 343.5 L358.5 347.4 L363.5 351.4 L368.4 355.3 L371.4 359.3 L373.4 364.2 L375.3 368.2 L377.8 369.7 L381.3 368.2 L385.7 365.2 L387.4 361.3 L386.4 357.3 L383.7 354.8 L381.8 351.4 L380.5 346.4 L379.3 342.5 L377.8 340.0 L376.5 343.5 L373.9 340.5 L371.4 337.5 L369.4 335.6 L369.1 343.5 L366.4 343.5 L364.0 339.5 L363.5 334.6 L365.5 330.6 L364.5 326.7 L361.5 324.7 L359.5 320.8 L357.1 315.8 L354.1 310.9 L351.6 305.9 L349.6 300.0 L349.2 299.1 L346.7 296.1 L342.8 293.2 L341.8 289.2 L338.8 286.3 L336.8 282.3 L334.9 278.9 L331.9 275.4 L327.9 271.4 L326.0 267.5 L325.0 262.5 L324.0 258.6 L322.0 254.6 L319.1 250.7 L313.1 247.7 L310.7 244.8 L310.2 241.3 L307.2 237.8 L301.3 232.9 L297.3 230.4 L295.3 228.0 L292.4 225.0 L293.2 224.3 L291.2 221.4 L291.2 216.4 L290.3 210.5 L288.3 204.6 L285.8 199.6 L286.8 194.7 L288.3 189.8 L286.3 185.3 L290.8 188.3 L295.7 190.8 L300.6 193.2 L303.6 190.8 L307.5 192.7 L310.5 197.2 L315.5 199.2 L320.4 200.6 L319.4 205.6 L320.4 209.5 L323.4 214.5 L325.3 219.4 L326.8 224.3 L328.9 229.9 L331.9 234.9 L334.9 238.8 L336.3 244.8 L338.8 248.7 L342.8 250.7 L344.7 255.6 L349.7 259.6 L352.6 264.5 L357.6 268.5 L364.5 269.0 L367.0 271.4 L366.0 277.4 L368.5 281.3 L372.4 284.3 L378.3 285.3 L380.3 290.2 L384.3 293.2 L388.2 293.2 L390.0 296.1 L393.1 300.0 L389.2 304.0 L386.2 308.9 L387.2 313.8 L393.1 317.3 L399.1 319.3 L405.0 321.7 L409.9 325.7 L412.9 330.6 L414.9 334.6 L420.8 338.5 L424.7 342.5 L429.7 345.5 L433.6 351.4 L437.6 356.3 L441.5 362.3 L446.5 367.2 L451.4 371.1 L454.4 377.1 L454.6 380.0 L456.1 384.9 L458.0 389.9 L459.5 393.8 L463.5 396.8 L464.0 401.2 L461.5 405.7 L458.5 409.6 L461.5 411.6 L463.5 414.1 L461.5 416.1 L457.1 416.6 L454.6 418.0 L456.1 422.5 L458.5 426.4 L461.5 431.4 L465.5 435.3 L468.4 439.3 L473.4 441.8 L479.3 443.7 L484.2 447.2 L489.2 450.7 L493.1 455.1 L495.1 458.6 L501.0 460.5 L507.0 462.5 L513.9 464.5 L519.8 466.0 L523.8 465.0 L526.7 467.9 L529.7 471.4 L534.6 474.4 L539.6 477.3 L540.0 478.6 L546.7 481.4 L553.4 484.2 L560.2 486.4 L563.5 489.2 L571.4 490.9 L580.3 492.0 L584.8 495.9 L590.4 498.2 L596.0 500.4 L600.5 502.6 L607.2 503.8 L612.8 506.0 L618.4 508.2 L622.9 508.8 L628.5 507.7 L634.1 505.4 L639.7 503.8 L644.2 500.4 L649.8 498.7 L656.5 498.4 L663.2 499.8 L668.8 502.1 L674.4 504.9 L680.0 509.4 L685.6 515.0 L691.2 520.6 L696.8 526.2 L701.3 530.1 L705.2 533.4 L714.7 541.3 L715.2 449.8 L700.1 451.4 L691.8 452.8 L683.5 456.3 L675.2 458.3 L666.9 460.4 L660.0 462.5 L655.2 457.7 L651.8 454.2 L647.6 451.4 L640.7 450.8 L635.2 450.1 L633.8 447.3 L630.4 443.2 L626.2 439.0 L624.9 432.1 L622.1 426.6 L618.0 421.1 L613.8 415.6 L609.7 410.0 L606.9 403.1 L604.2 396.2 L600.7 390.7 L599.3 383.8 L598.6 375.5 L598.6 365.9 L599.0 354.8 L599.3 345.2 L600.7 336.9 L602.8 330.0 L604.3 327.5 L606.6 320.4 L608.4 314.5 L610.2 308.5 L610.8 302.6 L609.6 296.7 L608.4 290.8 L607.8 284.9 L608.4 278.9 L610.8 273.0 L614.3 268.3 L619.1 263.5 L623.8 260.0 L629.7 255.3 L635.6 251.7 L641.6 248.7 L646.3 245.8 L651.0 241.6 L655.8 238.1 L660.5 235.1 L665.2 233.4 L670.0 231.6 L674.7 231.0 L680.6 230.4 L686.6 231.6 L693.7 233.9 L700.8 234.5 L705.5 235.1 L712.6 235.4 L720.0 120.0 L221.0 120.0Z" fill="#d2b48c" stroke="#000" stroke-width="2.3" stroke-linejoin="round" filter="url(#coast)"/>
<g filter="url(#coast)">
<path d="M655.1 237.5 L650.3 241.0 L645.6 245.2 L640.9 248.2 L634.9 251.1 L629.0 254.7 L623.1 259.4 L618.4 263.0 L613.6 267.7 L610.1 272.4 L607.7 278.6 L607.1 284.9 L607.7 290.8 L608.9 296.7 L609.8 302.6" fill="none" stroke="#000" stroke-width="3.40" stroke-linejoin="round" stroke-linecap="round" />
<path d="M700.8 232.8 L702.5 231.0 L704.3 232.8Z" fill="#000" stroke="#000" stroke-width="1.6" stroke-linejoin="round"/>
<path d="M670.6 231.0 L671.2 226.2 L672.9 225.1Z" fill="#000" stroke="#000" stroke-width="1.6" stroke-linejoin="round"/>
<path d="M649.9 235.1 L651.0 231.6 L654.0 229.8 L656.4 231.0 L655.8 233.9 L652.8 236.9 L651.0 238.7Z" fill="#000" stroke="#000" stroke-width="1.6" stroke-linejoin="round"/>
<path d="M619.7 252.9 L622.6 251.1 L627.4 250.5 L629.7 251.7 L628.0 254.7 L623.8 255.8 L620.8 255.3Z" fill="#000" stroke="#000" stroke-width="1.6" stroke-linejoin="round"/>
<path d="M609.6 264.7 L613.2 262.4 L616.7 259.4 L619.1 260.6 L615.5 264.7 L612.0 268.3Z" fill="#000" stroke="#000" stroke-width="1.6" stroke-linejoin="round"/>
<path d="M599.5 279.5 L603.7 277.8 L606.6 274.2 L608.4 270.6 L605.5 270.1 L603.1 273.6Z" fill="#000" stroke="#000" stroke-width="1.6" stroke-linejoin="round"/>
<path d="M602.5 286.0 L605.5 284.9 L607.2 290.8 L605.5 296.7 L606.6 302.6Z" fill="#000" stroke="#000" stroke-width="1.6" stroke-linejoin="round"/>
<path d="M600.7 390.7 L604.2 392.1 L606.9 397.6 L604.8 399.0 L602.1 394.9Z" fill="#000" stroke="#000" stroke-width="1.6" stroke-linejoin="round"/>
<path d="M299.3 268.5 L301.8 271.4 L304.2 273.4 L301.8 274.4Z" fill="#000" stroke="#000" stroke-width="1.6" stroke-linejoin="round"/>
<path d="M334.8 329.6 L337.3 332.6 L340.8 334.6 L344.2 337.1Z" fill="#000" stroke="#000" stroke-width="1.6" stroke-linejoin="round"/>
<path d="M598.9 320.4 L603.7 318.0 L605.5 321.6 L603.1 328.7 L600.7 335.1 L598.4 334.6 L597.8 326.3Z" fill="#56698a" stroke="#000" stroke-width="1.6"/>
</g>
<path d="M498.1 421.3 L503.0 420.3 L508.4 421.0 L507.9 422.7 L503.0 422.5 L499.1 422.5Z" fill="#a9b4c4" />
<path d="M266.0 150.8 L267.9 150.6 L273.4 156.2 L271.9 158.2 L268.9 155.2Z" fill="#b4b4b4" />
<path d="M288.7 168.0 L284.3 174.9 L281.4 180.7 L285.8 185.8" fill="none" stroke="#8fb0de" stroke-width="1.70" stroke-linejoin="round" stroke-linecap="round" />
<path d="M293.8 167.0 L300.3 168.4 L305.2 165.9 L310.4 164.1 L315.5 162.3 L320.6 160.4 L326.4 160.4 L326.4 156.1 L332.2 153.2 L340.9 157.5 L349.6 160.4 L355.4 159.0 L361.2 160.4 L369.9 156.8 L374.3 159.2 L378.6 161.9 L382.9 164.8 L388.7 162.6 L394.5 168.4 L400.3 167.0 L403.2 161.2 L409.0 157.5 L411.2 152.5 L409.0 148.8" fill="none" stroke="#8fb0de" stroke-width="1.70" stroke-linejoin="round" stroke-linecap="round" />
<path d="M433.6 137.2 L432.2 145.9 L427.8 154.6 L425.7 161.9 L429.3 169.1 L433.6 174.9 L436.5 182.2 L439.4 188.0" fill="none" stroke="#8fb0de" stroke-width="1.70" stroke-linejoin="round" stroke-linecap="round" />
<path d="M409.4 149.3 L410.4 155.5 L407.6 159.8 L404.2 163.7 L396.0 168.9" fill="none" stroke="#8fb0de" stroke-width="1.70" stroke-linejoin="round" stroke-linecap="round" />
<path d="M528.6 150.4 L534.4 153.7 L539.9 157.6 L545.0 160.5 L550.2 163.3 L558.4 159.6 L560.4 152.4 L565.5 150.7 L570.7 149.3 L574.7 152.5 L578.9 155.5 L582.9 159.7 L587.2 163.7 L591.7 166.3 L595.4 169.9 L600.0 173.5 L603.6 178.1 L606.3 183.5 L609.8 188.4 L613.1 193.4 L615.9 198.7 L619.3 204.7 L622.1 211.0 L625.2 215.6 L629.3 219.2 L630.4 225.4 L631.4 231.6 L635.2 235.0 L639.6 237.7 L641.2 242.8 L642.7 248.0" fill="none" stroke="#8fb0de" stroke-width="1.70" stroke-linejoin="round" stroke-linecap="round" />
<path d="M459.5 393.3 L463.5 391.4 L467.4 391.9 L472.4 390.4 L475.3 393.8 L478.3 398.8 L481.3 402.2 L486.2 403.7 L490.2 407.7 L495.1 405.7 L498.1 409.6 L501.0 414.6 L504.0 418.0 L507.9 419.0 L508.4 422.5 L499.1 422.0" fill="none" stroke="#8fb0de" stroke-width="1.70" stroke-linejoin="round" stroke-linecap="round" />
<path d="M580.0 390.0 L585.5 387.3 L592.4 385.9 L598.6 382.4" fill="none" stroke="#8fb0de" stroke-width="1.70" stroke-linejoin="round" stroke-linecap="round" />
<path d="M552.2 385.1 L558.4 389.2 L564.6 393.9 L570.7 394.3 L576.9 391.2 L585.1 387.1 L593.3 384.1 L599.5 382.0" fill="none" stroke="#8fb0de" stroke-width="1.70" stroke-linejoin="round" stroke-linecap="round" />
<path d="M692.5 452.8 L693.9 458.3 L698.7 461.1 L702.8 465.9" fill="none" stroke="#8fb0de" stroke-width="1.70" stroke-linejoin="round" stroke-linecap="round" />
<path d="M696.6 452.1 L700.1 457.0 L702.1 461.1 L704.2 466.6" fill="none" stroke="#8fb0de" stroke-width="1.70" stroke-linejoin="round" stroke-linecap="round" />
<path d="M439.4 188.0 L445.2 193.8 L453.9 201.0 L461.2 208.3 L468.4 212.6 L466.9 211.0 L471.0 219.2 L474.1 227.4 L478.2 233.6 L486.4 238.7 L494.7 242.9 L500.8 247.0 L504.9 241.8 L509.1 231.6 L517.3 228.5 L529.6 229.5 L537.8 234.6 L544.0 241.8 L549.1 251.1 L554.3 260.3 L560.4 268.6 L566.6 274.7 L568.7 285.0 L572.8 295.3 L576.9 299.4 L587.2 303.5 L597.4 306.6 L607.7 308.6" fill="none" stroke="#8fb0de" stroke-width="1.70" stroke-linejoin="round" stroke-linecap="round" />
<path d="M297.4 135.8 L295.7 139.4 L293.8 143.0 L290.9 150.3 L291.6 157.5 L294.5 161.9 L293.8 166.2 L288.7 168.0" fill="none" stroke="#000" stroke-width="1.50" stroke-linejoin="round" stroke-linecap="round" />
<path d="M581.0 137.0 L585.1 138.0 L589.3 138.8 L593.3 140.1 L598.6 140.3 L603.6 142.1 L608.6 143.9 L613.9 144.2 L618.2 143.8 L622.1 145.5 L626.2 146.2 L631.6 145.5 L636.5 143.2 L641.4 140.8 L646.8 140.1 L652.9 143.2 L656.4 145.4 L660.1 147.3 L667.3 149.7 L667.0 154.0 L668.3 158.3 L667.6 162.7 L666.9 167.0 L667.4 171.3 L666.8 175.7 L668.1 180.0 L667.3 184.3 L671.4 188.4 L674.0 193.3 L675.5 198.7 L676.9 202.7 L676.6 206.9 L675.0 211.0 L673.5 215.1 L672.1 219.1 L672.5 223.3 L670.4 230.5" fill="none" stroke="#000" stroke-width="1.50" stroke-linejoin="round" stroke-linecap="round" />
<path d="M393.8 130.0 L393.8 197.4" fill="none" stroke="#000" stroke-width="1.50" stroke-linejoin="round" stroke-linecap="round" />
<path d="M437.1 182.6 L502.9 182.6 L502.9 132.9" fill="none" stroke="#000" stroke-width="1.50" stroke-linejoin="round" stroke-linecap="round" />
<path d="M660.1 132.9 L660.1 147.3" fill="none" stroke="#000" stroke-width="1.50" stroke-linejoin="round" stroke-linecap="round" />
<path d="M667.3 161.7 L708.4 161.7" fill="none" stroke="#000" stroke-width="1.50" stroke-linejoin="round" stroke-linecap="round" />
<path d="M252.6 171.1 L291.7 167.1 L287.2 171.3 L356.8 197.4 L409.0 197.4 L409.0 188.0 L439.4 188.0" fill="none" stroke="#000" stroke-width="1.70" stroke-linejoin="round" stroke-linecap="round" stroke-dasharray="5.5 2.6" stroke-linecap="butt"/>
<path d="M439.4 188.0 L445.2 193.8 L453.9 201.0 L461.2 208.3 L468.4 212.6 L466.9 211.0 L471.0 219.2 L474.1 227.4 L478.2 233.6 L486.4 238.7 L494.7 242.9 L500.8 247.0 L504.9 241.8 L509.1 231.6 L517.3 228.5 L529.6 229.5 L537.8 234.6 L544.0 241.8 L549.1 251.1 L554.3 260.3 L560.4 268.6 L566.6 274.7 L568.7 285.0 L572.8 295.3 L576.9 299.4 L587.2 303.5 L597.4 306.6 L607.7 308.6" fill="none" stroke="#000" stroke-width="1.80" stroke-linejoin="round" stroke-linecap="round" stroke-dasharray="5.5 2.6" stroke-linecap="butt"/>
<path d="M705.2 511.0 L701.8 512.7 L703.0 517.2 L700.2 519.4 L702.4 523.9 L701.8 528.4 L705.2 530.6" fill="none" stroke="#000" stroke-width="1.50" stroke-linejoin="round" stroke-linecap="round" stroke-dasharray="5.5 2.6" stroke-linecap="butt"/>
<path d="M310.7 233.4 L313.6 234.4 L317.1 239.8 L318.6 244.8 L316.6 245.3 L313.6 241.8 L311.1 237.8Z" fill="#d2b48c" stroke="#000" stroke-width="2.0" stroke-linejoin="round"/>
<path d="M330.9 242.8 L333.9 241.3 L335.7 246.2 L334.4 249.7 L331.4 249.2Z" fill="#d2b48c" stroke="#000" stroke-width="2.0" stroke-linejoin="round"/>
<path d="M185.9 138.3 L189.9 138.2 L190.4 138.9 L186.1 139.0Z" fill="#1a1a1a" stroke="#000" stroke-width="1.6" stroke-linejoin="round"/>
<path d="M192.4 138.2 L196.8 138.4 L197.0 139.2 L192.6 139.0Z" fill="#1a1a1a" stroke="#000" stroke-width="1.6" stroke-linejoin="round"/>
<path d="M198.8 138.3 L203.2 138.2 L203.5 138.9 L199.0 139.1Z" fill="#1a1a1a" stroke="#000" stroke-width="1.6" stroke-linejoin="round"/>
<path d="M200.8 155.2 L203.2 154.3 L204.7 156.2 L203.2 157.7 L201.2 157.2Z" fill="#1a1a1a" stroke="#000" stroke-width="1.6" stroke-linejoin="round"/>
<path d="M219.0 150.8 L221.5 151.3 L224.5 153.8 L223.5 154.9 L220.5 153.3Z" fill="#1a1a1a" stroke="#000" stroke-width="1.6" stroke-linejoin="round"/>
<path d="M218.7 161.2 L220.5 160.7 L223.5 165.1 L222.3 166.6 L220.0 163.6Z" fill="#1a1a1a" stroke="#000" stroke-width="1.6" stroke-linejoin="round"/>
<path d="M210.4 150.8 L211.8 150.8 L211.8 152.2 L210.4 152.2Z" fill="#1a1a1a" stroke="#000" stroke-width="1.6" stroke-linejoin="round"/>
<path d="M279.5 259.1 L282.0 259.1 L282.7 264.5 L281.0 266.5 L279.3 264.0Z" fill="#1a1a1a" stroke="#000" stroke-width="1.6" stroke-linejoin="round"/>
<path d="M273.6 259.8 L275.4 259.8 L275.4 261.6 L273.6 261.6Z" fill="#1a1a1a" stroke="#000" stroke-width="1.6" stroke-linejoin="round"/>
<path d="M435.8 391.4 L437.8 391.1 L439.8 393.8 L438.3 394.8Z" fill="#1a1a1a" stroke="#000" stroke-width="1.6" stroke-linejoin="round"/>
<path d="M439.3 394.8 L441.2 394.8 L442.5 397.8 L440.8 398.3Z" fill="#1a1a1a" stroke="#000" stroke-width="1.6" stroke-linejoin="round"/>
<path d="M443.2 399.6 L445.2 399.6 L445.9 401.5 L443.9 401.9Z" fill="#1a1a1a" stroke="#000" stroke-width="1.6" stroke-linejoin="round"/>
<path d="M436.1 391.4 L438.1 391.4 L440.1 394.4 L442.0 397.3 L440.6 398.3 L438.1 395.4Z" fill="#1a1a1a" stroke="#000" stroke-width="1.6" stroke-linejoin="round"/>
<path d="M319.6 248.6 L320.8 248.6 L320.8 249.8 L319.6 249.8Z" fill="#1a1a1a" stroke="#000" stroke-width="1.6" stroke-linejoin="round"/>
<path d="M323.4 252.1 L324.6 252.1 L324.6 253.3 L323.4 253.3Z" fill="#1a1a1a" stroke="#000" stroke-width="1.6" stroke-linejoin="round"/>
<path d="M324.9 253.3 L326.1 253.3 L326.1 254.4 L324.9 254.4Z" fill="#1a1a1a" stroke="#000" stroke-width="1.6" stroke-linejoin="round"/>
<path d="M328.8 252.6 L330.0 252.6 L330.0 253.8 L328.8 253.8Z" fill="#1a1a1a" stroke="#000" stroke-width="1.6" stroke-linejoin="round"/>
<path d="M332.3 259.0 L333.5 259.0 L333.5 260.2 L332.3 260.2Z" fill="#1a1a1a" stroke="#000" stroke-width="1.6" stroke-linejoin="round"/>
<path d="M341.2 277.8 L342.4 277.8 L342.4 279.0 L341.2 279.0Z" fill="#1a1a1a" stroke="#000" stroke-width="1.6" stroke-linejoin="round"/>
<path d="M350.1 266.9 L351.3 266.9 L351.3 268.1 L350.1 268.1Z" fill="#1a1a1a" stroke="#000" stroke-width="1.6" stroke-linejoin="round"/>
<path d="M344.2 291.6 L345.3 291.6 L345.3 292.8 L344.2 292.8Z" fill="#1a1a1a" stroke="#000" stroke-width="1.6" stroke-linejoin="round"/>
<path d="M343.2 293.6 L344.3 293.6 L344.3 294.8 L343.2 294.8Z" fill="#1a1a1a" stroke="#000" stroke-width="1.6" stroke-linejoin="round"/>
<path d="M349.6 294.6 L350.8 294.6 L350.8 295.8 L349.6 295.8Z" fill="#1a1a1a" stroke="#000" stroke-width="1.6" stroke-linejoin="round"/>
<path d="M228.3 238.5 L230.6 238.8 L231.6 246.5 L229.5 248.0 L228.0 243.0Z" fill="#1a1a1a" stroke="#000" stroke-width="1.6" stroke-linejoin="round"/>
<circle cx="361.0" cy="440.0" r="1.7" fill="#000"/>
<circle cx="289.5" cy="457.5" r="1.3" fill="#000"/>
<circle cx="362.4" cy="429.4" r="1.0" fill="#000"/>
<circle cx="505.5" cy="497.0" r="0.8" fill="#000"/>
<path d="M126.1 163.3 L137.0 155.9" fill="none" stroke="#fff" stroke-width="5.0"/>
<path d="M186.8 160.6 L191.3 171.5" fill="none" stroke="#fff" stroke-width="5.0"/>
<path d="M444.9 428.9 L455.2 435.0" fill="none" stroke="#fff" stroke-width="5.0"/>
<path d="M478.2 473.8 L478.2 484.5" fill="none" stroke="#fff" stroke-width="5.0"/>
<path d="M643.3 280.7 L646.3 278.9 L649.9 279.5 L652.2 283.1 L653.6 287.2" fill="none" stroke="#fff" stroke-width="5.0"/>
<path d="M703.1 284.9 L704.3 280.1 L705.7 279.5" fill="none" stroke="#fff" stroke-width="5.0"/>
<path d="M576.9 533.0 L578.9 536.7" fill="none" stroke="#fff" stroke-width="2.6"/>
<polygon points="121.0,167.3 114.9,171.7 117.2,178.9 124.8,178.9 127.1,171.7" fill="#ea6f70" stroke="#000" stroke-width="1.50" stroke-linejoin="miter"/>
<circle cx="188.4" cy="248.4" r="6.15" fill="#66cc66" stroke="#000" stroke-width="1.5"/>
<polygon points="157.5,250.8 152.0,254.0 152.0,260.4 157.5,263.6 163.0,260.4 163.0,254.0" fill="#8de58d" stroke="#000" stroke-width="1.50" stroke-linejoin="miter"/>
<polygon points="159.0,284.3 152.9,288.7 155.2,295.9 162.8,295.9 165.1,288.7" fill="#bdfbbd" stroke="#000" stroke-width="1.50" stroke-linejoin="miter"/>
<polygon points="184.0,283.8 177.9,288.2 180.2,295.4 187.8,295.4 190.1,288.2" fill="#a87063" stroke="#000" stroke-width="1.50" stroke-linejoin="miter"/>
<polygon points="232.4,290.9 226.9,294.1 226.9,300.5 232.4,303.7 237.9,300.5 237.9,294.1" fill="#ffa95e" stroke="#000" stroke-width="1.50" stroke-linejoin="miter"/>
<polygon points="274.5,272.0 269.0,275.2 269.0,281.6 274.5,284.8 280.0,281.6 280.0,275.2" fill="#8c564b" stroke="#000" stroke-width="1.50" stroke-linejoin="miter"/>
<polygon points="288.1,294.6 282.6,297.8 282.6,304.2 288.1,307.4 293.6,304.2 293.6,297.8" fill="#2ca02c" stroke="#000" stroke-width="1.50" stroke-linejoin="miter"/>
<circle cx="103.1" cy="354.2" r="6.15" fill="#f49898" stroke="#000" stroke-width="1.5"/>
<polygon points="250.9,432.5 244.8,436.9 247.1,444.1 254.7,444.1 257.0,436.9" fill="#f19edb" stroke="#000" stroke-width="1.50" stroke-linejoin="miter"/>
<polygon points="189.9,467.7 183.8,472.1 186.1,479.3 193.7,479.3 196.0,472.1" fill="#ffc38e" stroke="#000" stroke-width="1.50" stroke-linejoin="miter"/>
<polygon points="197.3,496.9 191.8,500.1 191.8,506.5 197.3,509.7 202.8,506.5 202.8,500.1" fill="#ffc4c4" stroke="#000" stroke-width="1.50" stroke-linejoin="miter"/>
<circle cx="290.2" cy="531.4" r="6.15" fill="#ffddbf" stroke="#000" stroke-width="1.5"/>
<polygon points="350.4,588.0 344.9,591.2 344.9,597.6 350.4,600.8 355.9,597.6 355.9,591.2" fill="#c5e5fb" stroke="#000" stroke-width="1.50" stroke-linejoin="miter"/>
<circle cx="162.3" cy="624.4" r="6.15" fill="#c48c7f" stroke="#000" stroke-width="1.5"/>
<circle cx="343.4" cy="624.4" r="6.15" fill="#1f77b4" stroke="#000" stroke-width="1.5"/>
<polygon points="83.0,637.0 77.5,640.2 77.5,646.6 83.0,649.8 88.5,646.6 88.5,640.2" fill="#ea8bcf" stroke="#000" stroke-width="1.50" stroke-linejoin="miter"/>
<polygon points="484.8,468.8 478.7,473.2 481.0,480.4 488.6,480.4 490.9,473.2" fill="#5da5d9" stroke="#000" stroke-width="1.50" stroke-linejoin="miter"/>
<polygon points="455.8,480.7 449.7,485.1 452.0,492.3 459.6,492.3 461.9,485.1" fill="#ff7f0e" stroke="#000" stroke-width="1.50" stroke-linejoin="miter"/>
<circle cx="545.4" cy="505.4" r="6.15" fill="#f8b2e8" stroke="#000" stroke-width="1.5"/>
<polygon points="428.3,549.0 422.8,552.2 422.8,558.6 428.3,561.8 433.8,558.6 433.8,552.2" fill="#ffc6f4" stroke="#000" stroke-width="1.50" stroke-linejoin="miter"/>
<circle cx="459.3" cy="579.6" r="6.15" fill="#ff9437" stroke="#000" stroke-width="1.5"/>
<polygon points="544.8,625.2 538.7,629.6 541.0,636.8 548.6,636.8 550.9,629.6" fill="#ffcbbe" stroke="#000" stroke-width="1.50" stroke-linejoin="miter"/>
<polygon points="409.4,637.6 403.9,640.8 403.9,647.2 409.4,650.4 414.9,647.2 414.9,640.8" fill="#e0aa9d" stroke="#000" stroke-width="1.50" stroke-linejoin="miter"/>
<circle cx="630.3" cy="351.6" r="6.15" fill="#e3c3ff" stroke="#000" stroke-width="1.5"/>
<polygon points="687.9,338.0 681.8,342.4 684.1,349.6 691.7,349.6 694.0,342.4" fill="#9467bd" stroke="#000" stroke-width="1.50" stroke-linejoin="miter"/>
<circle cx="697.3" cy="376.4" r="6.15" fill="#d62728" stroke="#000" stroke-width="1.5"/>
<polygon points="615.3,384.2 609.2,388.6 611.5,395.8 619.1,395.8 621.4,388.6" fill="#cfaaf1" stroke="#000" stroke-width="1.50" stroke-linejoin="miter"/>
<polygon points="660.1,412.0 654.6,415.2 654.6,421.6 660.1,424.8 665.6,421.6 665.6,415.2" fill="#e0494a" stroke="#000" stroke-width="1.50" stroke-linejoin="miter"/>
<circle cx="687.5" cy="416.3" r="6.15" fill="#a67cce" stroke="#000" stroke-width="1.5"/>
<polygon points="667.7,299.1 662.2,302.3 662.2,308.7 667.7,311.9 673.2,308.7 673.2,302.3" fill="#ba92df" stroke="#000" stroke-width="1.50" stroke-linejoin="miter"/>
<circle cx="654.4" cy="317.3" r="6.15" fill="#8cc4ec" stroke="#000" stroke-width="1.5"/>
<polygon points="123.0,157.6 115.2,173.1 130.8,173.1" fill="#9467bd" stroke="#000" stroke-width="1.65" stroke-linejoin="miter"/>
<polygon points="195.6,165.1 187.8,180.6 203.3,180.6" fill="#bcbd22" stroke="#000" stroke-width="1.65" stroke-linejoin="miter"/>
<polygon points="234.0,147.1 226.2,162.6 241.8,162.6" fill="#7f7f7f" stroke="#000" stroke-width="1.65" stroke-linejoin="miter"/>
<polygon points="243.3,157.6 235.6,173.1 251.1,173.1" fill="#e377c2" stroke="#000" stroke-width="1.65" stroke-linejoin="miter"/>
<polygon points="438.8,417.6 431.1,433.1 446.6,433.1" fill="#2ca02c" stroke="#000" stroke-width="1.65" stroke-linejoin="miter"/>
<polygon points="478.8,484.9 471.1,500.4 486.6,500.4" fill="#ff7f0e" stroke="#000" stroke-width="1.65" stroke-linejoin="miter"/>
<polygon points="571.7,526.9 564.0,542.4 579.5,542.4" fill="#d62728" stroke="#000" stroke-width="1.65" stroke-linejoin="miter"/>
<polygon points="650.9,284.9 643.1,300.4 658.6,300.4" fill="#17becf" stroke="#000" stroke-width="1.65" stroke-linejoin="miter"/>
<polygon points="700.8,289.1 693.0,304.6 708.5,304.6" fill="#1f77b4" stroke="#000" stroke-width="1.65" stroke-linejoin="miter"/>
<path d="M241.3 166.1 L245.4 163.6" fill="none" stroke="#fff" stroke-width="4.5"/>
</g></g>
<rect x="814.5" y="137.5" width="620.0" height="514.0" fill="none" stroke="#000" stroke-width="1.1"/>
<g stroke="#000" fill="none"><path d="M814.5 137.5v-3.0 M814.5 651.5v3.0" stroke-width="1.6"/><path d="M832.5 137.5v-9.0 M832.5 651.5v9.0" stroke-width="3.0"/><path d="M850.5 137.5v-3.0 M850.5 651.5v3.0" stroke-width="1.6"/><path d="M869.5 137.5v-3.0 M869.5 651.5v3.0" stroke-width="1.6"/><path d="M887.5 137.5v-3.0 M887.5 651.5v3.0" stroke-width="1.6"/><path d="M905.5 137.5v-3.0 M905.5 651.5v3.0" stroke-width="1.6"/><path d="M923.5 137.5v-9.0 M923.5 651.5v9.0" stroke-width="3.0"/><path d="M942.5 137.5v-3.0 M942.5 651.5v3.0" stroke-width="1.6"/><path d="M960.5 137.5v-3.0 M960.5 651.5v3.0" stroke-width="1.6"/><path d="M978.5 137.5v-3.0 M978.5 651.5v3.0" stroke-width="1.6"/><path d="M996.5 137.5v-3.0 M996.5 651.5v3.0" stroke-width="1.6"/><path d="M1015.5 137.5v-9.0 M1015.5 651.5v9.0" stroke-width="3.0"/><path d="M1033.5 137.5v-3.0 M1033.5 651.5v3.0" stroke-width="1.6"/><path d="M1051.5 137.5v-3.0 M1051.5 651.5v3.0" stroke-width="1.6"/><path d="M1069.5 137.5v-3.0 M1069.5 651.5v3.0" stroke-width="1.6"/><path d="M1088.5 137.5v-3.0 M1088.5 651.5v3.0" stroke-width="1.6"/><path d="M1106.5 137.5v-9.0 M1106.5 651.5v9.0" stroke-width="3.0"/><path d="M1124.5 137.5v-3.0 M1124.5 651.5v3.0" stroke-width="1.6"/><path d="M1142.5 137.5v-3.0 M1142.5 651.5v3.0" stroke-width="1.6"/><path d="M1160.5 137.5v-3.0 M1160.5 651.5v3.0" stroke-width="1.6"/><path d="M1179.5 137.5v-3.0 M1179.5 651.5v3.0" stroke-width="1.6"/><path d="M1197.5 137.5v-9.0 M1197.5 651.5v9.0" stroke-width="3.0"/><path d="M1215.5 137.5v-3.0 M1215.5 651.5v3.0" stroke-width="1.6"/><path d="M1233.5 137.5v-3.0 M1233.5 651.5v3.0" stroke-width="1.6"/><path d="M1252.5 137.5v-3.0 M1252.5 651.5v3.0" stroke-width="1.6"/><path d="M1270.5 137.5v-3.0 M1270.5 651.5v3.0" stroke-width="1.6"/><path d="M1288.5 137.5v-9.0 M1288.5 651.5v9.0" stroke-width="3.0"/><path d="M1306.5 137.5v-3.0 M1306.5 651.5v3.0" stroke-width="1.6"/><path d="M1325.5 137.5v-3.0 M1325.5 651.5v3.0" stroke-width="1.6"/><path d="M1343.5 137.5v-3.0 M1343.5 651.5v3.0" stroke-width="1.6"/><path d="M1361.5 137.5v-3.0 M1361.5 651.5v3.0" stroke-width="1.6"/><path d="M1379.5 137.5v-9.0 M1379.5 651.5v9.0" stroke-width="3.0"/><path d="M1398.5 137.5v-3.0 M1398.5 651.5v3.0" stroke-width="1.6"/><path d="M1416.5 137.5v-3.0 M1416.5 651.5v3.0" stroke-width="1.6"/><path d="M1434.5 137.5v-3.0 M1434.5 651.5v3.0" stroke-width="1.6"/><path d="M814.5 650.5h-3.0 M1434.5 650.5h3.0" stroke-width="1.6"/><path d="M814.5 632.5h-3.0 M1434.5 632.5h3.0" stroke-width="1.6"/><path d="M814.5 614.5h-9.0 M1434.5 614.5h9.0" stroke-width="3.0"/><path d="M814.5 595.5h-3.0 M1434.5 595.5h3.0" stroke-width="1.6"/><path d="M814.5 577.5h-3.0 M1434.5 577.5h3.0" stroke-width="1.6"/><path d="M814.5 558.5h-3.0 M1434.5 558.5h3.0" stroke-width="1.6"/><path d="M814.5 540.5h-3.0 M1434.5 540.5h3.0" stroke-width="1.6"/><path d="M814.5 521.5h-9.0 M1434.5 521.5h9.0" stroke-width="3.0"/><path d="M814.5 502.5h-3.0 M1434.5 502.5h3.0" stroke-width="1.6"/><path d="M814.5 483.5h-3.0 M1434.5 483.5h3.0" stroke-width="1.6"/><path d="M814.5 464.5h-3.0 M1434.5 464.5h3.0" stroke-width="1.6"/><path d="M814.5 445.5h-3.0 M1434.5 445.5h3.0" stroke-width="1.6"/><path d="M814.5 426.5h-9.0 M1434.5 426.5h9.0" stroke-width="3.0"/><path d="M814.5 407.5h-3.0 M1434.5 407.5h3.0" stroke-width="1.6"/><path d="M814.5 387.5h-3.0 M1434.5 387.5h3.0" stroke-width="1.6"/><path d="M814.5 368.5h-3.0 M1434.5 368.5h3.0" stroke-width="1.6"/><path d="M814.5 348.5h-3.0 M1434.5 348.5h3.0" stroke-width="1.6"/><path d="M814.5 328.5h-9.0 M1434.5 328.5h9.0" stroke-width="3.0"/><path d="M814.5 308.5h-3.0 M1434.5 308.5h3.0" stroke-width="1.6"/><path d="M814.5 288.5h-3.0 M1434.5 288.5h3.0" stroke-width="1.6"/><path d="M814.5 267.5h-3.0 M1434.5 267.5h3.0" stroke-width="1.6"/><path d="M814.5 247.5h-3.0 M1434.5 247.5h3.0" stroke-width="1.6"/><path d="M814.5 226.5h-9.0 M1434.5 226.5h9.0" stroke-width="3.0"/><path d="M814.5 205.5h-3.0 M1434.5 205.5h3.0" stroke-width="1.6"/><path d="M814.5 183.5h-3.0 M1434.5 183.5h3.0" stroke-width="1.6"/><path d="M814.5 162.5h-3.0 M1434.5 162.5h3.0" stroke-width="1.6"/></g>
<text x="1450.9" y="622.9" font-family="Liberation Sans, sans-serif" font-size="23.6" text-anchor="start" font-weight="normal" font-style="normal" textLength="54.3" lengthAdjust="spacingAndGlyphs" >10°N</text>
<text x="1450.9" y="529.9" font-family="Liberation Sans, sans-serif" font-size="23.6" text-anchor="start" font-weight="normal" font-style="normal" textLength="54.3" lengthAdjust="spacingAndGlyphs" >15°N</text>
<text x="1450.9" y="434.9" font-family="Liberation Sans, sans-serif" font-size="23.6" text-anchor="start" font-weight="normal" font-style="normal" textLength="54.3" lengthAdjust="spacingAndGlyphs" >20°N</text>
<text x="1450.9" y="336.9" font-family="Liberation Sans, sans-serif" font-size="23.6" text-anchor="start" font-weight="normal" font-style="normal" textLength="54.3" lengthAdjust="spacingAndGlyphs" >25°N</text>
<text x="1450.9" y="234.9" font-family="Liberation Sans, sans-serif" font-size="23.6" text-anchor="start" font-weight="normal" font-style="normal" textLength="54.3" lengthAdjust="spacingAndGlyphs" >30°N</text>
<g transform="translate(830.0,702.0) rotate(-45)"><text x="0.0" y="8.5" font-family="Liberation Sans, sans-serif" font-size="23.6" text-anchor="middle" font-weight="normal" font-style="normal" textLength="75.2" lengthAdjust="spacingAndGlyphs" >125°W</text></g>
<g transform="translate(921.0,702.0) rotate(-45)"><text x="0.0" y="8.5" font-family="Liberation Sans, sans-serif" font-size="23.6" text-anchor="middle" font-weight="normal" font-style="normal" textLength="75.2" lengthAdjust="spacingAndGlyphs" >120°W</text></g>
<g transform="translate(1013.0,702.0) rotate(-45)"><text x="0.0" y="8.5" font-family="Liberation Sans, sans-serif" font-size="23.6" text-anchor="middle" font-weight="normal" font-style="normal" textLength="75.2" lengthAdjust="spacingAndGlyphs" >115°W</text></g>
<g transform="translate(1104.0,702.0) rotate(-45)"><text x="0.0" y="8.5" font-family="Liberation Sans, sans-serif" font-size="23.6" text-anchor="middle" font-weight="normal" font-style="normal" textLength="75.2" lengthAdjust="spacingAndGlyphs" >110°W</text></g>
<g transform="translate(1195.0,702.0) rotate(-45)"><text x="0.0" y="8.5" font-family="Liberation Sans, sans-serif" font-size="23.6" text-anchor="middle" font-weight="normal" font-style="normal" textLength="75.2" lengthAdjust="spacingAndGlyphs" >105°W</text></g>
<g transform="translate(1286.0,702.0) rotate(-45)"><text x="0.0" y="8.5" font-family="Liberation Sans, sans-serif" font-size="23.6" text-anchor="middle" font-weight="normal" font-style="normal" textLength="75.2" lengthAdjust="spacingAndGlyphs" >100°W</text></g>
<g transform="translate(1377.0,697.0) rotate(-45)"><text x="0.0" y="8.5" font-family="Liberation Sans, sans-serif" font-size="23.6" text-anchor="middle" font-weight="normal" font-style="normal" textLength="61.0" lengthAdjust="spacingAndGlyphs" >95°W</text></g>
<polygon points="142.3,765.0 79.8,773.6 142.3,782.2" fill="#2a186c"/>
<rect x="142.30" y="765.0" width="104.45" height="17.2" fill="#2e1a87"/>
<rect x="245.25" y="765.0" width="104.45" height="17.2" fill="#2234a4"/>
<rect x="348.20" y="765.0" width="104.45" height="17.2" fill="#0e5295"/>
<rect x="451.15" y="765.0" width="104.45" height="17.2" fill="#1a678a"/>
<rect x="554.10" y="765.0" width="104.45" height="17.2" fill="#29798a"/>
<rect x="657.05" y="765.0" width="104.45" height="17.2" fill="#388b88"/>
<rect x="760.00" y="765.0" width="104.45" height="17.2" fill="#419e86"/>
<rect x="862.95" y="765.0" width="104.45" height="17.2" fill="#50b07d"/>
<rect x="965.90" y="765.0" width="104.45" height="17.2" fill="#69c170"/>
<rect x="1068.85" y="765.0" width="104.45" height="17.2" fill="#8ed05f"/>
<rect x="1171.80" y="765.0" width="104.45" height="17.2" fill="#c4dc65"/>
<rect x="1274.75" y="765.0" width="103.25" height="17.2" fill="#ece785"/>
<polygon points="1377.7,765.0 1438.0,773.6 1377.7,782.2" fill="#fdef9a"/>
<polygon points="142.3,765.0 1377.7,765.0 1438.0,773.6 1377.7,782.2 142.3,782.2 79.8,773.6" fill="none" stroke="#000" stroke-width="1.1" stroke-linejoin="miter"/>
<path d="M142.3 782.2v5" stroke="#000" stroke-width="1.1"/>
<text x="142.3" y="812.0" font-family="Liberation Sans, sans-serif" font-size="23.6" text-anchor="middle" font-weight="normal" font-style="normal" textLength="45.0" lengthAdjust="spacingAndGlyphs" >33.8</text>
<path d="M348.2 782.2v5" stroke="#000" stroke-width="1.1"/>
<text x="348.2" y="812.0" font-family="Liberation Sans, sans-serif" font-size="23.6" text-anchor="middle" font-weight="normal" font-style="normal" textLength="45.0" lengthAdjust="spacingAndGlyphs" >34.0</text>
<path d="M554.1 782.2v5" stroke="#000" stroke-width="1.1"/>
<text x="554.1" y="812.0" font-family="Liberation Sans, sans-serif" font-size="23.6" text-anchor="middle" font-weight="normal" font-style="normal" textLength="45.0" lengthAdjust="spacingAndGlyphs" >34.2</text>
<path d="M760.0 782.2v5" stroke="#000" stroke-width="1.1"/>
<text x="760.0" y="812.0" font-family="Liberation Sans, sans-serif" font-size="23.6" text-anchor="middle" font-weight="normal" font-style="normal" textLength="45.0" lengthAdjust="spacingAndGlyphs" >34.4</text>
<path d="M965.9 782.2v5" stroke="#000" stroke-width="1.1"/>
<text x="965.9" y="812.0" font-family="Liberation Sans, sans-serif" font-size="23.6" text-anchor="middle" font-weight="normal" font-style="normal" textLength="45.0" lengthAdjust="spacingAndGlyphs" >34.6</text>
<path d="M1171.8 782.2v5" stroke="#000" stroke-width="1.1"/>
<text x="1171.8" y="812.0" font-family="Liberation Sans, sans-serif" font-size="23.6" text-anchor="middle" font-weight="normal" font-style="normal" textLength="45.0" lengthAdjust="spacingAndGlyphs" >34.8</text>
<path d="M1377.7 782.2v5" stroke="#000" stroke-width="1.1"/>
<text x="1377.7" y="812.0" font-family="Liberation Sans, sans-serif" font-size="23.6" text-anchor="middle" font-weight="normal" font-style="normal" textLength="45.0" lengthAdjust="spacingAndGlyphs" >35.0</text>
<text x="759.5" y="837.8" font-family="Liberation Sans, sans-serif" font-size="20.4" text-anchor="middle" font-weight="bold" font-style="normal" textLength="157.5" lengthAdjust="spacingAndGlyphs" >Salinity (psu)</text>
<text x="758.5" y="862.3" font-family="Liberation Sans, sans-serif" font-size="15.4" text-anchor="middle" font-weight="bold" font-style="italic" textLength="650.0" lengthAdjust="spacingAndGlyphs" >Glider/Argo Search Window: 2025-09-23 00:00:00 to 2025-09-28 00:00:00</text>
<rect x="198.3" y="883.0" width="1122.3" height="109.0" rx="3.5" fill="#fff" stroke="#cfcfcf" stroke-width="1.3"/>
<circle cx="217.4" cy="894.4" r="6.15" fill="#1f77b4" stroke="#000" stroke-width="1.5"/>
<text x="243.7" y="900.1" font-family="Liberation Sans, sans-serif" font-size="15.2" text-anchor="start" font-weight="normal" font-style="normal" textLength="59.5" lengthAdjust="spacingAndGlyphs" >1902270</text>
<polygon points="217.4,909.1 211.9,912.3 211.9,918.7 217.4,921.9 222.9,918.7 222.9,912.3" fill="#3a89c5" stroke="#000" stroke-width="1.50" stroke-linejoin="miter"/>
<text x="243.7" y="921.2" font-family="Liberation Sans, sans-serif" font-size="15.2" text-anchor="start" font-weight="normal" font-style="normal" textLength="59.5" lengthAdjust="spacingAndGlyphs" >1902653</text>
<polygon points="217.4,930.2 211.3,934.6 213.6,941.8 221.2,941.8 223.5,934.6" fill="#5da5d9" stroke="#000" stroke-width="1.50" stroke-linejoin="miter"/>
<text x="243.7" y="942.3" font-family="Liberation Sans, sans-serif" font-size="15.2" text-anchor="start" font-weight="normal" font-style="normal" textLength="59.5" lengthAdjust="spacingAndGlyphs" >2903857</text>
<circle cx="217.4" cy="957.7" r="6.15" fill="#8cc4ec" stroke="#000" stroke-width="1.5"/>
<text x="243.7" y="963.4" font-family="Liberation Sans, sans-serif" font-size="15.2" text-anchor="start" font-weight="normal" font-style="normal" textLength="59.5" lengthAdjust="spacingAndGlyphs" >2904010</text>
<polygon points="217.4,972.4 211.9,975.6 211.9,982.0 217.4,985.1 222.9,982.0 222.9,975.6" fill="#c5e5fb" stroke="#000" stroke-width="1.50" stroke-linejoin="miter"/>
<text x="243.7" y="984.5" font-family="Liberation Sans, sans-serif" font-size="15.2" text-anchor="start" font-weight="normal" font-style="normal" textLength="59.5" lengthAdjust="spacingAndGlyphs" >3902277</text>
<polygon points="345.9,888.0 339.8,892.4 342.1,899.6 349.7,899.6 352.0,892.4" fill="#ff7f0e" stroke="#000" stroke-width="1.50" stroke-linejoin="miter"/>
<text x="372.2" y="900.1" font-family="Liberation Sans, sans-serif" font-size="15.2" text-anchor="start" font-weight="normal" font-style="normal" textLength="59.5" lengthAdjust="spacingAndGlyphs" >3902329</text>
<circle cx="345.9" cy="915.5" r="6.15" fill="#ff9437" stroke="#000" stroke-width="1.5"/>
<text x="372.2" y="921.2" font-family="Liberation Sans, sans-serif" font-size="15.2" text-anchor="start" font-weight="normal" font-style="normal" textLength="59.5" lengthAdjust="spacingAndGlyphs" >3902375</text>
<polygon points="345.9,930.2 340.4,933.4 340.4,939.8 345.9,943.0 351.4,939.8 351.4,933.4" fill="#ffa95e" stroke="#000" stroke-width="1.50" stroke-linejoin="miter"/>
<text x="372.2" y="942.3" font-family="Liberation Sans, sans-serif" font-size="15.2" text-anchor="start" font-weight="normal" font-style="normal" textLength="59.5" lengthAdjust="spacingAndGlyphs" >4902328</text>
<polygon points="345.9,951.3 339.8,955.7 342.1,962.9 349.7,962.9 352.0,955.7" fill="#ffc38e" stroke="#000" stroke-width="1.50" stroke-linejoin="miter"/>
<text x="372.2" y="963.4" font-family="Liberation Sans, sans-serif" font-size="15.2" text-anchor="start" font-weight="normal" font-style="normal" textLength="59.5" lengthAdjust="spacingAndGlyphs" >4902332</text>
<circle cx="345.9" cy="978.8" r="6.15" fill="#ffddbf" stroke="#000" stroke-width="1.5"/>
<text x="372.2" y="984.5" font-family="Liberation Sans, sans-serif" font-size="15.2" text-anchor="start" font-weight="normal" font-style="normal" textLength="59.5" lengthAdjust="spacingAndGlyphs" >4902333</text>
<polygon points="474.9,888.0 469.4,891.2 469.4,897.6 474.9,900.8 480.4,897.6 480.4,891.2" fill="#2ca02c" stroke="#000" stroke-width="1.50" stroke-linejoin="miter"/>
<text x="501.2" y="900.1" font-family="Liberation Sans, sans-serif" font-size="15.2" text-anchor="start" font-weight="normal" font-style="normal" textLength="59.5" lengthAdjust="spacingAndGlyphs" >4902475</text>
<polygon points="474.9,909.1 468.8,913.5 471.1,920.7 478.7,920.7 481.0,913.5" fill="#47b447" stroke="#000" stroke-width="1.50" stroke-linejoin="miter"/>
<text x="501.2" y="921.2" font-family="Liberation Sans, sans-serif" font-size="15.2" text-anchor="start" font-weight="normal" font-style="normal" textLength="59.5" lengthAdjust="spacingAndGlyphs" >4903010</text>
<circle cx="474.9" cy="936.6" r="6.15" fill="#66cc66" stroke="#000" stroke-width="1.5"/>
<text x="501.2" y="942.3" font-family="Liberation Sans, sans-serif" font-size="15.2" text-anchor="start" font-weight="normal" font-style="normal" textLength="59.5" lengthAdjust="spacingAndGlyphs" >4903182</text>
<polygon points="474.9,951.4 469.4,954.5 469.4,960.9 474.9,964.1 480.4,960.9 480.4,954.5" fill="#8de58d" stroke="#000" stroke-width="1.50" stroke-linejoin="miter"/>
<text x="501.2" y="963.4" font-family="Liberation Sans, sans-serif" font-size="15.2" text-anchor="start" font-weight="normal" font-style="normal" textLength="59.5" lengthAdjust="spacingAndGlyphs" >4903185</text>
<polygon points="474.9,972.4 468.8,976.8 471.1,984.0 478.7,984.0 481.0,976.8" fill="#bdfbbd" stroke="#000" stroke-width="1.50" stroke-linejoin="miter"/>
<text x="501.2" y="984.5" font-family="Liberation Sans, sans-serif" font-size="15.2" text-anchor="start" font-weight="normal" font-style="normal" textLength="59.5" lengthAdjust="spacingAndGlyphs" >4903195</text>
<circle cx="604.0" cy="894.4" r="6.15" fill="#d62728" stroke="#000" stroke-width="1.5"/>
<text x="630.3" y="900.1" font-family="Liberation Sans, sans-serif" font-size="15.2" text-anchor="start" font-weight="normal" font-style="normal" textLength="59.5" lengthAdjust="spacingAndGlyphs" >4903232</text>
<polygon points="604.0,909.1 598.5,912.3 598.5,918.7 604.0,921.9 609.5,918.7 609.5,912.3" fill="#e0494a" stroke="#000" stroke-width="1.50" stroke-linejoin="miter"/>
<text x="630.3" y="921.2" font-family="Liberation Sans, sans-serif" font-size="15.2" text-anchor="start" font-weight="normal" font-style="normal" textLength="59.5" lengthAdjust="spacingAndGlyphs" >4903248</text>
<polygon points="604.0,930.2 597.9,934.6 600.2,941.8 607.8,941.8 610.1,934.6" fill="#ea6f70" stroke="#000" stroke-width="1.50" stroke-linejoin="miter"/>
<text x="630.3" y="942.3" font-family="Liberation Sans, sans-serif" font-size="15.2" text-anchor="start" font-weight="normal" font-style="normal" textLength="59.5" lengthAdjust="spacingAndGlyphs" >4903294</text>
<circle cx="604.0" cy="957.7" r="6.15" fill="#f49898" stroke="#000" stroke-width="1.5"/>
<text x="630.3" y="963.4" font-family="Liberation Sans, sans-serif" font-size="15.2" text-anchor="start" font-weight="normal" font-style="normal" textLength="59.5" lengthAdjust="spacingAndGlyphs" >4903318</text>
<polygon points="604.0,972.4 598.5,975.6 598.5,982.0 604.0,985.1 609.5,982.0 609.5,975.6" fill="#ffc4c4" stroke="#000" stroke-width="1.50" stroke-linejoin="miter"/>
<text x="630.3" y="984.5" font-family="Liberation Sans, sans-serif" font-size="15.2" text-anchor="start" font-weight="normal" font-style="normal" textLength="59.5" lengthAdjust="spacingAndGlyphs" >4903401</text>
<polygon points="732.8,888.0 726.7,892.4 729.0,899.6 736.6,899.6 738.9,892.4" fill="#9467bd" stroke="#000" stroke-width="1.50" stroke-linejoin="miter"/>
<text x="759.1" y="900.1" font-family="Liberation Sans, sans-serif" font-size="15.2" text-anchor="start" font-weight="normal" font-style="normal" textLength="59.5" lengthAdjust="spacingAndGlyphs" >4903543</text>
<circle cx="732.8" cy="915.5" r="6.15" fill="#a67cce" stroke="#000" stroke-width="1.5"/>
<text x="759.1" y="921.2" font-family="Liberation Sans, sans-serif" font-size="15.2" text-anchor="start" font-weight="normal" font-style="normal" textLength="59.5" lengthAdjust="spacingAndGlyphs" >4903546</text>
<polygon points="732.8,930.2 727.3,933.4 727.3,939.8 732.8,943.0 738.3,939.8 738.3,933.4" fill="#ba92df" stroke="#000" stroke-width="1.50" stroke-linejoin="miter"/>
<text x="759.1" y="942.3" font-family="Liberation Sans, sans-serif" font-size="15.2" text-anchor="start" font-weight="normal" font-style="normal" textLength="59.5" lengthAdjust="spacingAndGlyphs" >4903548</text>
<polygon points="732.8,951.3 726.7,955.7 729.0,962.9 736.6,962.9 738.9,955.7" fill="#cfaaf1" stroke="#000" stroke-width="1.50" stroke-linejoin="miter"/>
<text x="759.1" y="963.4" font-family="Liberation Sans, sans-serif" font-size="15.2" text-anchor="start" font-weight="normal" font-style="normal" textLength="59.5" lengthAdjust="spacingAndGlyphs" >4903551</text>
<circle cx="732.8" cy="978.8" r="6.15" fill="#e3c3ff" stroke="#000" stroke-width="1.5"/>
<text x="759.1" y="984.5" font-family="Liberation Sans, sans-serif" font-size="15.2" text-anchor="start" font-weight="normal" font-style="normal" textLength="59.5" lengthAdjust="spacingAndGlyphs" >4903557</text>
<polygon points="861.5,888.0 856.0,891.2 856.0,897.6 861.5,900.8 867.0,897.6 867.0,891.2" fill="#8c564b" stroke="#000" stroke-width="1.50" stroke-linejoin="miter"/>
<text x="887.8" y="900.1" font-family="Liberation Sans, sans-serif" font-size="15.2" text-anchor="start" font-weight="normal" font-style="normal" textLength="59.5" lengthAdjust="spacingAndGlyphs" >4903743</text>
<polygon points="861.5,909.1 855.4,913.5 857.7,920.7 865.3,920.7 867.6,913.5" fill="#a87063" stroke="#000" stroke-width="1.50" stroke-linejoin="miter"/>
<text x="887.8" y="921.2" font-family="Liberation Sans, sans-serif" font-size="15.2" text-anchor="start" font-weight="normal" font-style="normal" textLength="59.5" lengthAdjust="spacingAndGlyphs" >5906017</text>
<circle cx="861.5" cy="936.6" r="6.15" fill="#c48c7f" stroke="#000" stroke-width="1.5"/>
<text x="887.8" y="942.3" font-family="Liberation Sans, sans-serif" font-size="15.2" text-anchor="start" font-weight="normal" font-style="normal" textLength="59.5" lengthAdjust="spacingAndGlyphs" >5906022</text>
<polygon points="861.5,951.4 856.0,954.5 856.0,960.9 861.5,964.1 867.0,960.9 867.0,954.5" fill="#e0aa9d" stroke="#000" stroke-width="1.50" stroke-linejoin="miter"/>
<text x="887.8" y="963.4" font-family="Liberation Sans, sans-serif" font-size="15.2" text-anchor="start" font-weight="normal" font-style="normal" textLength="59.5" lengthAdjust="spacingAndGlyphs" >5906023</text>
<polygon points="861.5,972.4 855.4,976.8 857.7,984.0 865.3,984.0 867.6,976.8" fill="#ffcbbe" stroke="#000" stroke-width="1.50" stroke-linejoin="miter"/>
<text x="887.8" y="984.5" font-family="Liberation Sans, sans-serif" font-size="15.2" text-anchor="start" font-weight="normal" font-style="normal" textLength="59.5" lengthAdjust="spacingAndGlyphs" >5906090</text>
<circle cx="990.2" cy="894.4" r="6.15" fill="#e377c2" stroke="#000" stroke-width="1.5"/>
<text x="1016.5" y="900.1" font-family="Liberation Sans, sans-serif" font-size="15.2" text-anchor="start" font-weight="normal" font-style="normal" textLength="59.5" lengthAdjust="spacingAndGlyphs" >5906563</text>
<polygon points="990.2,909.1 984.7,912.3 984.7,918.7 990.2,921.9 995.7,918.7 995.7,912.3" fill="#ea8bcf" stroke="#000" stroke-width="1.50" stroke-linejoin="miter"/>
<text x="1016.5" y="921.2" font-family="Liberation Sans, sans-serif" font-size="15.2" text-anchor="start" font-weight="normal" font-style="normal" textLength="59.5" lengthAdjust="spacingAndGlyphs" >5906853</text>
<polygon points="990.2,930.2 984.1,934.6 986.4,941.8 994.0,941.8 996.3,934.6" fill="#f19edb" stroke="#000" stroke-width="1.50" stroke-linejoin="miter"/>
<text x="1016.5" y="942.3" font-family="Liberation Sans, sans-serif" font-size="15.2" text-anchor="start" font-weight="normal" font-style="normal" textLength="59.5" lengthAdjust="spacingAndGlyphs" >5907053</text>
<circle cx="990.2" cy="957.7" r="6.15" fill="#f8b2e8" stroke="#000" stroke-width="1.5"/>
<text x="1016.5" y="963.4" font-family="Liberation Sans, sans-serif" font-size="15.2" text-anchor="start" font-weight="normal" font-style="normal" textLength="59.5" lengthAdjust="spacingAndGlyphs" >5907056</text>
<polygon points="990.2,972.4 984.7,975.6 984.7,982.0 990.2,985.1 995.7,982.0 995.7,975.6" fill="#ffc6f4" stroke="#000" stroke-width="1.50" stroke-linejoin="miter"/>
<text x="1016.5" y="984.5" font-family="Liberation Sans, sans-serif" font-size="15.2" text-anchor="start" font-weight="normal" font-style="normal" textLength="59.5" lengthAdjust="spacingAndGlyphs" >7902104</text>
<path d="M1104.3 894.4h30.4" stroke="#1f77b4" stroke-width="2.1"/>
<polygon points="1119.5,886.0 1111.8,901.5 1127.2,901.5" fill="#1f77b4" stroke="#000" stroke-width="1.65" stroke-linejoin="miter"/>
<text x="1145.1" y="900.1" font-family="Liberation Sans, sans-serif" font-size="15.2" text-anchor="start" font-weight="normal" font-style="normal" textLength="40.5" lengthAdjust="spacingAndGlyphs" >ng598</text>
<path d="M1104.3 915.5h30.4" stroke="#ff7f0e" stroke-width="2.1"/>
<polygon points="1119.5,907.1 1111.8,922.6 1127.2,922.6" fill="#ff7f0e" stroke="#000" stroke-width="1.65" stroke-linejoin="miter"/>
<text x="1145.1" y="921.2" font-family="Liberation Sans, sans-serif" font-size="15.2" text-anchor="start" font-weight="normal" font-style="normal" textLength="39.5" lengthAdjust="spacingAndGlyphs" >sg622</text>
<path d="M1104.3 936.6h30.4" stroke="#2ca02c" stroke-width="2.1"/>
<polygon points="1119.5,928.2 1111.8,943.8 1127.2,943.8" fill="#2ca02c" stroke="#000" stroke-width="1.65" stroke-linejoin="miter"/>
<text x="1145.1" y="942.3" font-family="Liberation Sans, sans-serif" font-size="15.2" text-anchor="start" font-weight="normal" font-style="normal" textLength="39.5" lengthAdjust="spacingAndGlyphs" >sg623</text>
<path d="M1104.3 957.7h30.4" stroke="#d62728" stroke-width="2.1"/>
<polygon points="1119.5,949.4 1111.8,964.9 1127.2,964.9" fill="#d62728" stroke="#000" stroke-width="1.65" stroke-linejoin="miter"/>
<text x="1145.1" y="963.4" font-family="Liberation Sans, sans-serif" font-size="15.2" text-anchor="start" font-weight="normal" font-style="normal" textLength="39.5" lengthAdjust="spacingAndGlyphs" >sg672</text>
<path d="M1104.3 978.8h30.4" stroke="#9467bd" stroke-width="2.1"/>
<polygon points="1119.5,970.4 1111.8,985.9 1127.2,985.9" fill="#9467bd" stroke="#000" stroke-width="1.65" stroke-linejoin="miter"/>
<text x="1145.1" y="984.5" font-family="Liberation Sans, sans-serif" font-size="15.2" text-anchor="start" font-weight="normal" font-style="normal" textLength="39.5" lengthAdjust="spacingAndGlyphs" >sp013</text>
<path d="M1215.4 894.4h30.4" stroke="#8c564b" stroke-width="2.1"/>
<polygon points="1230.6,886.0 1222.8,901.5 1238.3,901.5" fill="#8c564b" stroke="#000" stroke-width="1.65" stroke-linejoin="miter"/>
<text x="1256.2" y="900.1" font-family="Liberation Sans, sans-serif" font-size="15.2" text-anchor="start" font-weight="normal" font-style="normal" textLength="39.5" lengthAdjust="spacingAndGlyphs" >sp036</text>
<path d="M1215.4 915.5h30.4" stroke="#e377c2" stroke-width="2.1"/>
<polygon points="1230.6,907.1 1222.8,922.6 1238.3,922.6" fill="#e377c2" stroke="#000" stroke-width="1.65" stroke-linejoin="miter"/>
<text x="1256.2" y="921.2" font-family="Liberation Sans, sans-serif" font-size="15.2" text-anchor="start" font-weight="normal" font-style="normal" textLength="39.5" lengthAdjust="spacingAndGlyphs" >sp040</text>
<path d="M1215.4 936.6h30.4" stroke="#7f7f7f" stroke-width="2.1"/>
<polygon points="1230.6,928.2 1222.8,943.8 1238.3,943.8" fill="#7f7f7f" stroke="#000" stroke-width="1.65" stroke-linejoin="miter"/>
<text x="1256.2" y="942.3" font-family="Liberation Sans, sans-serif" font-size="15.2" text-anchor="start" font-weight="normal" font-style="normal" textLength="39.5" lengthAdjust="spacingAndGlyphs" >sp041</text>
<path d="M1215.4 957.7h30.4" stroke="#bcbd22" stroke-width="2.1"/>
<polygon points="1230.6,949.4 1222.8,964.9 1238.3,964.9" fill="#bcbd22" stroke="#000" stroke-width="1.65" stroke-linejoin="miter"/>
<text x="1256.2" y="963.4" font-family="Liberation Sans, sans-serif" font-size="15.2" text-anchor="start" font-weight="normal" font-style="normal" textLength="39.5" lengthAdjust="spacingAndGlyphs" >sp058</text>
<path d="M1215.4 978.8h30.4" stroke="#17becf" stroke-width="2.1"/>
<polygon points="1230.6,970.4 1222.8,985.9 1238.3,985.9" fill="#17becf" stroke="#000" stroke-width="1.65" stroke-linejoin="miter"/>
<text x="1256.2" y="984.5" font-family="Liberation Sans, sans-serif" font-size="15.2" text-anchor="start" font-weight="normal" font-style="normal" textLength="58.6" lengthAdjust="spacingAndGlyphs" >unit_307</text>
</svg></body></html>
